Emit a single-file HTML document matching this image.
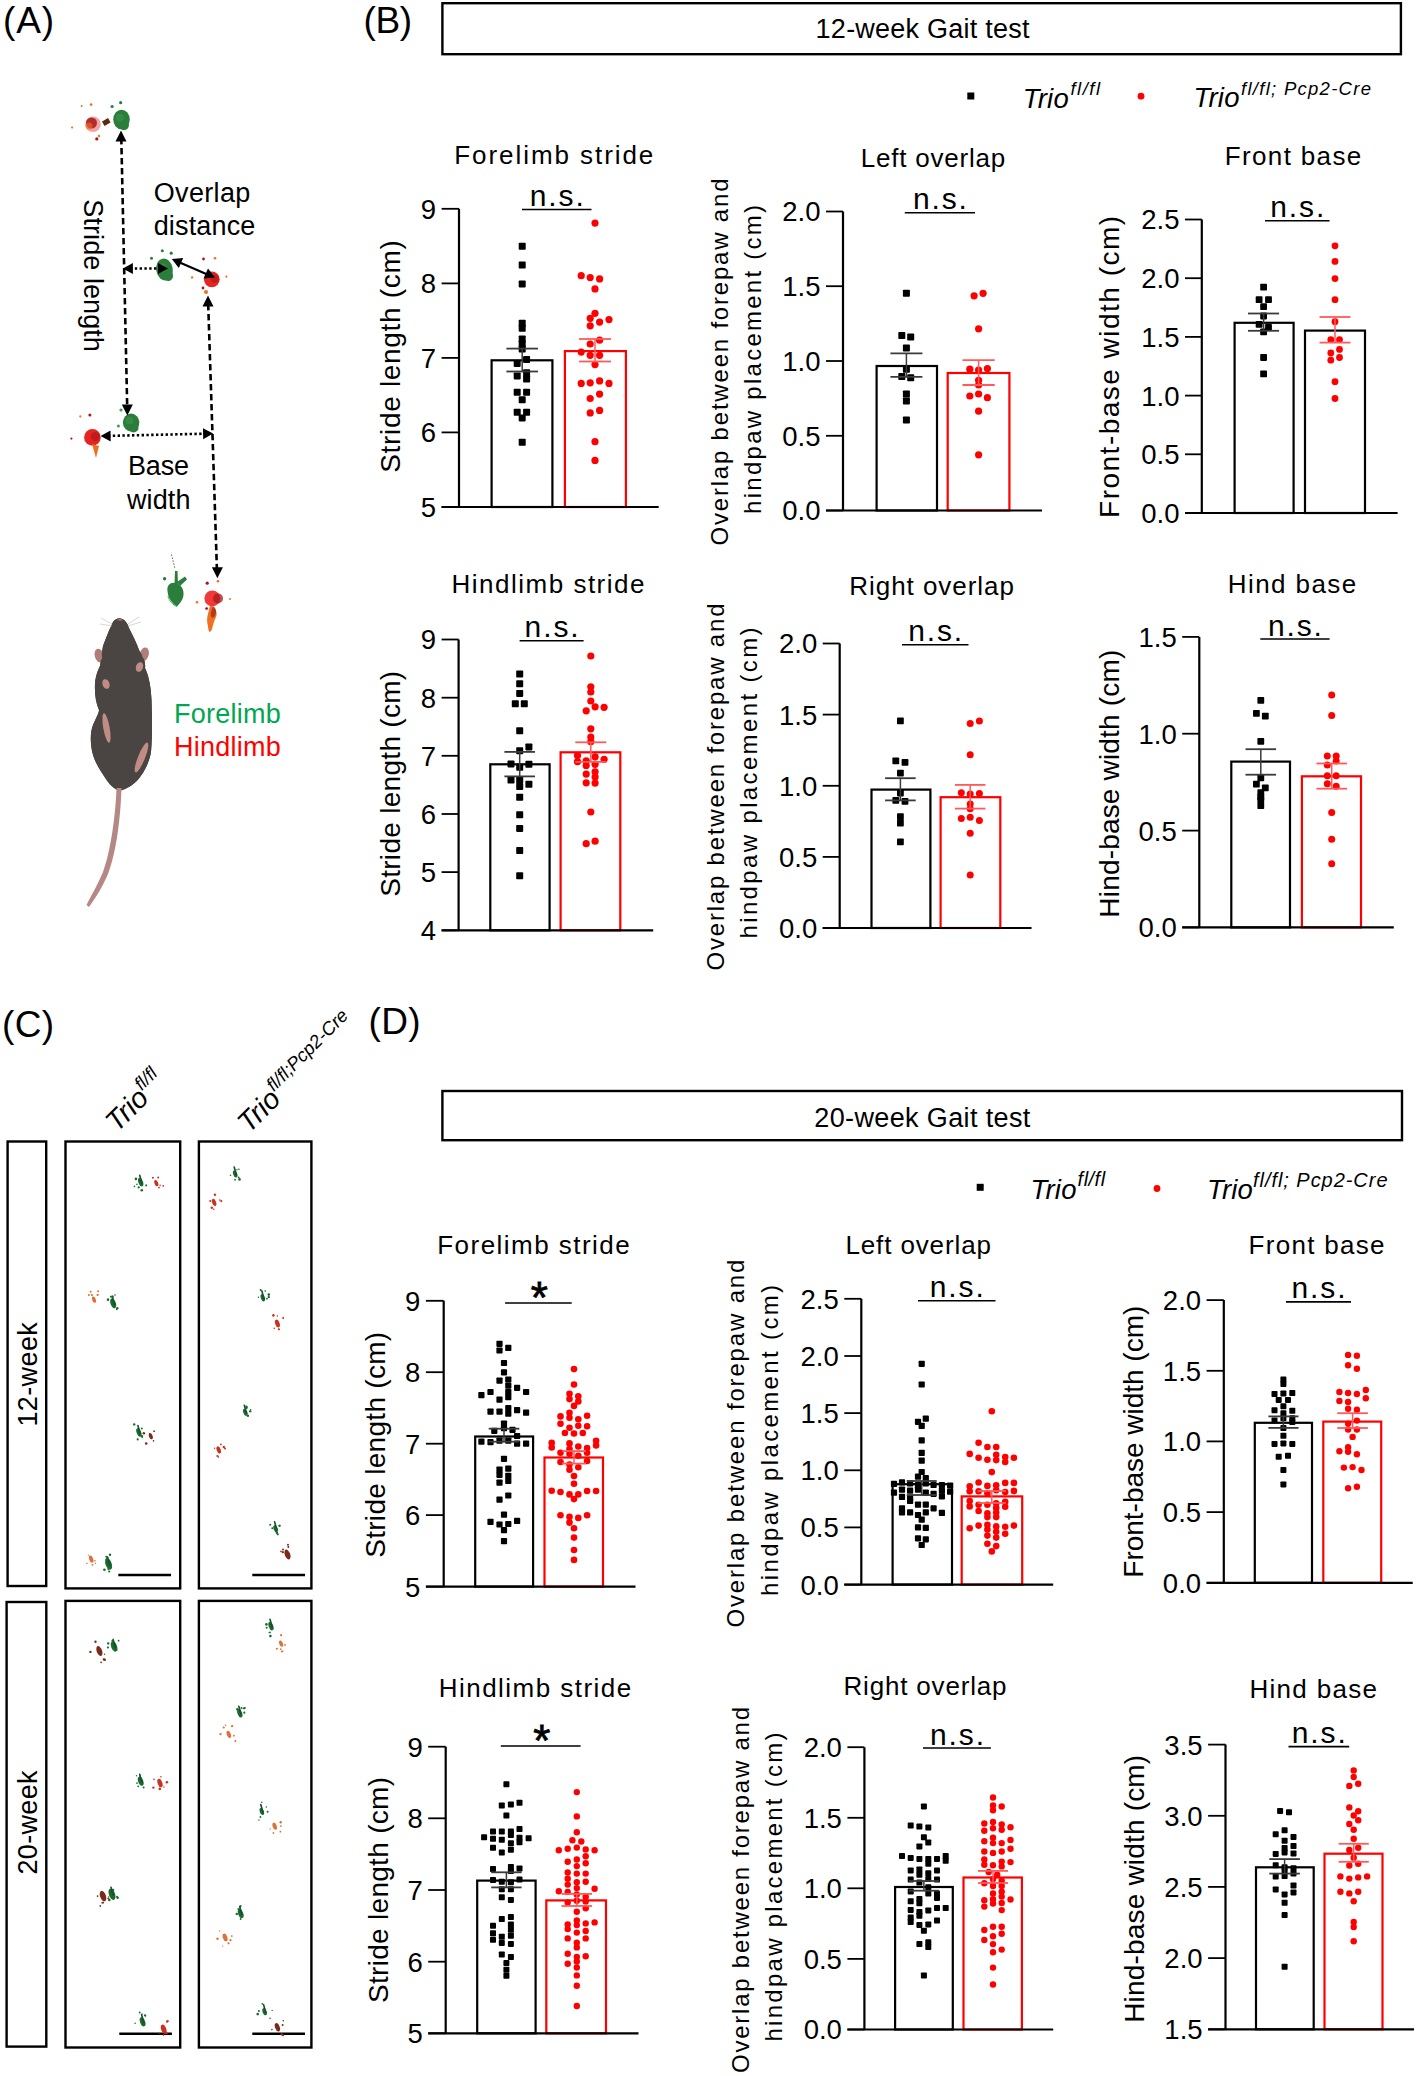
<!DOCTYPE html><html><head><meta charset="utf-8"><style>html,body{margin:0;padding:0;background:#fff;}svg{display:block;}text{font-family:"Liberation Sans", sans-serif;}</style></head><body>
<svg width="1417" height="2076" viewBox="0 0 1417 2076">
<rect x="0" y="0" width="1417" height="2076" fill="#fff"/>
<text x="3.0" y="33.2" font-size="37" text-anchor="start" fill="#000" textLength="51.0" lengthAdjust="spacing" >(A)</text>
<text x="363.5" y="33.2" font-size="37" text-anchor="start" fill="#000" textLength="48.7" lengthAdjust="spacing" >(B)</text>
<text x="2.0" y="1037.3" font-size="37" text-anchor="start" fill="#000" textLength="52.0" lengthAdjust="spacing" >(C)</text>
<text x="368.5" y="1033.9" font-size="37" text-anchor="start" fill="#000" textLength="52.2" lengthAdjust="spacing" >(D)</text>
<rect x="442.4" y="3.2" width="958.5" height="51.0" stroke="#000" stroke-width="2.4" fill="none"/>
<text x="922.6" y="38.1" font-size="27" text-anchor="middle" fill="#000" textLength="214.0" lengthAdjust="spacing" >12-week Gait test</text>
<rect x="442.4" y="1091.0" width="959.6" height="49.2" stroke="#000" stroke-width="2.4" fill="none"/>
<text x="922.3" y="1126.6" font-size="27" text-anchor="middle" fill="#000" textLength="216.0" lengthAdjust="spacing" >20-week Gait test</text>
<rect x="967.3" y="92.5" width="7" height="7" fill="#000"/>
<text x="1022.7" y="107.8" font-size="27.5" text-anchor="start" fill="#000" textLength="46.0" lengthAdjust="spacing" font-style="italic" >Trio</text>
<text x="1070.5" y="94.8" font-size="18.5" text-anchor="start" fill="#000" textLength="29.5" lengthAdjust="spacing" font-style="italic" >fl/fl</text>
<circle cx="1141.0" cy="96.2" r="3.4" fill="#ff0000"/>
<text x="1193.5" y="107.4" font-size="27.5" text-anchor="start" fill="#000" textLength="46.0" lengthAdjust="spacing" font-style="italic" >Trio</text>
<text x="1241.0" y="95.0" font-size="18.5" text-anchor="start" fill="#000" textLength="130.0" lengthAdjust="spacing" font-style="italic" >fl/fl; Pcp2-Cre</text>
<rect x="976.7" y="1183.8" width="7" height="7" fill="#000"/>
<text x="1030.5" y="1198.6" font-size="27.5" text-anchor="start" fill="#000" textLength="46.0" lengthAdjust="spacing" font-style="italic" >Trio</text>
<text x="1077.6" y="1185.6" font-size="20" text-anchor="start" fill="#000" textLength="27.5" lengthAdjust="spacing" font-style="italic" >fl/fl</text>
<circle cx="1157.0" cy="1188.5" r="3.4" fill="#ff0000"/>
<text x="1206.9" y="1198.6" font-size="27.5" text-anchor="start" fill="#000" textLength="46.0" lengthAdjust="spacing" font-style="italic" >Trio</text>
<text x="1253.0" y="1187.0" font-size="20" text-anchor="start" fill="#000" textLength="134.5" lengthAdjust="spacing" font-style="italic" >fl/fl; Pcp2-Cre</text>
<text x="153.7" y="202.0" font-size="27" text-anchor="start" fill="#000" textLength="96.6" lengthAdjust="spacing" >Overlap</text>
<text x="153.7" y="235.0" font-size="27" text-anchor="start" fill="#000" textLength="101.6" lengthAdjust="spacing" >distance</text>
<text transform="translate(83.5,275.6) rotate(90)" x="0" y="0" font-size="27" text-anchor="middle" textLength="152.5" lengthAdjust="spacing">Stride length</text>
<text x="128.0" y="474.8" font-size="27" text-anchor="start" fill="#000" textLength="61.0" lengthAdjust="spacing" >Base</text>
<text x="127.0" y="508.6" font-size="27" text-anchor="start" fill="#000" textLength="63.5" lengthAdjust="spacing" >width</text>
<text x="174.0" y="722.5" font-size="27" text-anchor="start" fill="#00a650" textLength="106.7" lengthAdjust="spacing" >Forelimb</text>
<text x="174.0" y="756.3" font-size="27" text-anchor="start" fill="#ff0000" textLength="106.7" lengthAdjust="spacing" >Hindlimb</text>
<g transform="translate(121.5,119.5) rotate(0)"><ellipse cx="0" cy="0" rx="8.25" ry="9.75" fill="#2b7d3c"/><ellipse cx="2.475" cy="5.85" rx="4.95" ry="4.875" fill="#2b7d3c"/><ellipse cx="-1.6500000000000001" cy="-1.9500000000000002" rx="4.125" ry="3.9000000000000004" fill="#3c8f4a" opacity="0.7"/></g>
<circle cx="112.1" cy="106.5" r="1.6" fill="#2b7d3c"/>
<circle cx="120.7" cy="102.7" r="1.6" fill="#2b7d3c"/>
<circle cx="93" cy="124.3" r="7.8" fill="#f2a3a3"/>
<circle cx="91.5" cy="123" r="5.5" fill="#a81818" opacity="0.85"/>
<circle cx="89" cy="126" r="3.5" fill="#f07020" opacity="0.6"/>
<rect x="103" y="119.5" width="7" height="5" fill="#5a2a10" transform="rotate(-30 106.4 122.4)"/>
<circle cx="96.8" cy="138.9" r="1.6" fill="#a81818"/>
<circle cx="99" cy="136" r="1.2" fill="#f07020"/>
<circle cx="91.1" cy="104.6" r="1.3" fill="#f07020"/>
<circle cx="81.6" cy="105.9" r="1" fill="#f07020"/>
<circle cx="72.1" cy="127.5" r="1.1" fill="#f07020"/>
<g transform="translate(164.5,269.5) rotate(-10)"><ellipse cx="0" cy="0" rx="8.25" ry="11.0" fill="#2b7d3c"/><ellipse cx="2.475" cy="6.6" rx="4.95" ry="5.5" fill="#2b7d3c"/><ellipse cx="-1.6500000000000001" cy="-2.2" rx="4.125" ry="4.4" fill="#3c8f4a" opacity="0.7"/></g>
<circle cx="151.5" cy="258.3" r="1.5" fill="#2b7d3c"/>
<circle cx="162.3" cy="250.7" r="1.5" fill="#2b7d3c"/>
<circle cx="171.2" cy="253.2" r="1.6" fill="#2b7d3c"/>
<circle cx="211.8" cy="279.3" r="7.9" fill="#e52424"/>
<circle cx="214.565" cy="278.51" r="4.345000000000001" fill="#a81818" opacity="0.6"/>
<circle cx="203.5" cy="259" r="1.4" fill="#a81818"/>
<circle cx="215" cy="258.3" r="1.3" fill="#f07020"/>
<circle cx="192.1" cy="277.4" r="1.2" fill="#f07020"/>
<circle cx="226.4" cy="276.7" r="1.1" fill="#f07020"/>
<circle cx="206" cy="292" r="2" fill="#f07020"/>
<circle cx="203" cy="288" r="1.4" fill="#a81818"/>
<g transform="translate(131.1,422.5) rotate(0)"><ellipse cx="0" cy="0" rx="8.25" ry="9.0" fill="#2b7d3c"/><ellipse cx="2.475" cy="5.3999999999999995" rx="4.95" ry="4.5" fill="#2b7d3c"/><ellipse cx="-1.6500000000000001" cy="-1.8" rx="4.125" ry="3.6" fill="#3c8f4a" opacity="0.7"/></g>
<circle cx="121" cy="410" r="1.6" fill="#3aa14a"/>
<circle cx="118.4" cy="425.9" r="1.5" fill="#3aa14a"/>
<circle cx="92.4" cy="437.4" r="8.3" fill="#e52424"/>
<circle cx="95.305" cy="436.57" r="4.565" fill="#a81818" opacity="0.6"/>
<path d="M92,444 L96,458 L99,446 Z" fill="#f07020"/>
<circle cx="89.9" cy="415.1" r="1.5" fill="#a81818"/>
<circle cx="80.3" cy="416.4" r="1.1" fill="#f07020"/>
<circle cx="71.4" cy="438.6" r="1.1" fill="#a81818"/>
<path d="M167.5,591 C166.5,584 172,581 177,583.5 C182,585.5 184,590 183.5,595 C183,600 180,603 177,606.5 C173,604 168,599 167.5,591 Z" fill="#2b7d3c"/>
<path d="M174.5,584 L175,571 L177.5,571 L178,584 Z M177,582 L185,576.5 L187,579.5 L180,586 Z" fill="#2b7d3c"/>
<path d="M168,596 C169,601 173,605 177,606.5" stroke="#39b54a" stroke-width="1" fill="none"/>
<circle cx="164.6" cy="578.7" r="1.7" fill="#2b7d3c"/>
<line x1="171.6" y1="554.6" x2="175" y2="569" stroke="#556655" stroke-width="1" stroke-dasharray="1.5 1.5"/>
<path d="M211,605 C215,608 218,612 216,617 C214,621 213,625 212,629 C211,632 209,633 208.5,630 C208,625 206,620 208,614 C209,610 209,607 211,605 Z" fill="#f07020"/>
<path d="M213,606 C217,609 217,613 214,617 C212,619 210,616 211,612 Z" fill="#a0301a" opacity="0.8"/>
<circle cx="212.3" cy="598.4" r="7.9" fill="#f03a3a"/>
<circle cx="218" cy="598.4" r="5" fill="#a81818" opacity="0.75"/>
<circle cx="207.2" cy="583.2" r="1.6" fill="#a81818"/>
<circle cx="218" cy="581.3" r="1.3" fill="#f07020"/>
<circle cx="197" cy="602.2" r="1.3" fill="#f07020"/>
<circle cx="206.6" cy="608.6" r="1.4" fill="#a81818"/>
<circle cx="230" cy="599" r="1.0" fill="#f07020"/>
<line x1="121.3" y1="138" x2="127.2" y2="407" stroke="#000" stroke-width="2.6" stroke-dasharray="6.4 3.6"/>
<path d="M121.0,130.5 L126.5,141.5 L115.5,141.5 Z" fill="#000"/>
<path d="M127.3,415.5 L121.8,404.5 L132.8,404.5 Z" fill="#000"/>
<line x1="208.2" y1="304" x2="216.9" y2="569" stroke="#000" stroke-width="2.6" stroke-dasharray="6.4 3.6"/>
<path d="M208.0,295.5 L213.5,306.5 L202.5,306.5 Z" fill="#000"/>
<path d="M217.4,578.3 L211.9,567.3 L222.9,567.3 Z" fill="#000"/>
<line x1="130" y1="268.5" x2="160" y2="268.5" stroke="#000" stroke-width="2.6" stroke-dasharray="2.4 2.4"/>
<path d="M122.9,268.5 L132.9,263.0 L132.9,274.0 Z" fill="#000"/>
<path d="M168.0,268.5 L158.0,274.0 L158.0,263.0 Z" fill="#000"/>
<line x1="178" y1="261.7" x2="208" y2="274.7" stroke="#000" stroke-width="2.2"/>
<path d="M171.8,259.0 L183.2,257.9 L178.8,268.0 Z" fill="#000"/>
<path d="M215.0,277.4 L203.6,278.5 L208.0,268.4 Z" fill="#000"/>
<line x1="108" y1="435.9" x2="205" y2="433.7" stroke="#000" stroke-width="2.6" stroke-dasharray="2.4 2.4"/>
<path d="M100.6,436.1 L110.5,430.4 L110.7,441.4 Z" fill="#000"/>
<path d="M213.1,433.5 L203.2,439.2 L203.0,428.2 Z" fill="#000"/>
<path d="M120,618.2 C124,619 127,622 129,628 C133,636 137,644 139,650 C143,656 146,662 145,668 C149,676 151,688 151.5,700 C152,715 152.5,735 151,752 C149,765 140,780 132,785 C126,789 122,790.5 119,790.6 C114,789 109,784 105.8,778.7 C100,770 93,760 91.5,748 C90,738 91,730 93,725 C96,718 99,713 99,710 C96,703 94.5,695 95,684 C95.5,676 98,670 100,666 C101,660 102,652 103,646 C106,638 110,628 113,622 C115,619 118,618 120,618.2 Z" fill="#4a4542"/>
<ellipse cx="99" cy="656" rx="4.5" ry="7" fill="#b07d79" transform="rotate(-15 97.5 655)"/>
<ellipse cx="144.5" cy="655" rx="4.5" ry="7" fill="#b07d79" transform="rotate(15 147 653.5)"/>
<path d="M120,618.2 C124,619 127,622 129,628 C133,636 137,644 139,650 C143,656 146,662 145,668 C149,676 151,688 151.5,700 C152,715 152.5,735 151,752 C149,765 140,780 132,785 C126,789 122,790.5 119,790.6 C114,789 109,784 105.8,778.7 C100,770 93,760 91.5,748 C90,738 91,730 93,725 C96,718 99,713 99,710 C96,703 94.5,695 95,684 C95.5,676 98,670 100,666 C101,660 102,652 103,646 C106,638 110,628 113,622 C115,619 118,618 120,618.2 Z" fill="#4a4542"/>
<ellipse cx="99.5" cy="655" rx="2.2" ry="5" fill="#b07d79" transform="rotate(-15 99.5 655)"/>
<ellipse cx="145" cy="653.5" rx="2.2" ry="5" fill="#b07d79" transform="rotate(15 145 653.5)"/>
<ellipse cx="106" cy="684" rx="3.5" ry="5" fill="#c08c86" transform="rotate(-20 106 684)"/>
<ellipse cx="139.5" cy="667" rx="3.5" ry="5" fill="#c08c86" transform="rotate(20 139.5 667)"/>
<ellipse cx="106.5" cy="728" rx="3.2" ry="15" fill="#c08c86" transform="rotate(-10 106.5 728)"/>
<ellipse cx="141.5" cy="757.5" rx="3.5" ry="16" fill="#c08c86" transform="rotate(22 141.5 757.5)"/>
<path d="M120,618.5 L117,620.5 L123,620.5 Z" fill="#b07d79"/>
<path d="M112,624 L101,618 M112,626 L100,624 M128,624 L139,617 M128,626 L141,622" stroke="#bbb" stroke-width="0.6" fill="none"/>
<path d="M116.5,788 C115.5,815 111,850 103,872 C97,886 91,896 86.5,905 L89,907 C95.5,898 102,888 108,874 C116.5,852 120.5,818 121.5,788 Z" fill="#b48884"/>
<rect x="7.6" y="1141.5" width="38.6" height="444.5" stroke="#000" stroke-width="2.4" fill="none"/>
<rect x="65.5" y="1141.5" width="114.7" height="446.9" stroke="#000" stroke-width="2.4" fill="none"/>
<rect x="198.9" y="1141.5" width="112.5" height="446.9" stroke="#000" stroke-width="2.4" fill="none"/>
<rect x="6.6" y="1602.0" width="39.7" height="444.6" stroke="#000" stroke-width="2.4" fill="none"/>
<rect x="65.5" y="1600.9" width="114.7" height="446.6" stroke="#000" stroke-width="2.4" fill="none"/>
<rect x="198.9" y="1600.9" width="112.5" height="446.6" stroke="#000" stroke-width="2.4" fill="none"/>
<line x1="118.3" y1="1575.0" x2="171.0" y2="1575.0" stroke="#000" stroke-width="2.6" />
<line x1="252.3" y1="1575.0" x2="305.0" y2="1575.0" stroke="#000" stroke-width="2.6" />
<line x1="119.3" y1="2033.8" x2="171.9" y2="2033.8" stroke="#000" stroke-width="2.6" />
<line x1="252.3" y1="2033.8" x2="305.0" y2="2033.8" stroke="#000" stroke-width="2.6" />
<text transform="translate(37,1374.4) rotate(-90)" x="0" y="0" font-size="27" text-anchor="middle" textLength="104.4" lengthAdjust="spacing">12-week</text>
<text transform="translate(37.3,1822.5) rotate(-90)" x="0" y="0" font-size="27" text-anchor="middle" textLength="104" lengthAdjust="spacing">20-week</text>
<g transform="translate(117,1133) rotate(-45)"><text x="0" y="0" font-size="28.5" font-style="italic">Trio<tspan font-size="18.5" dy="-12">fl/fl</tspan></text></g>
<g transform="translate(249,1134) rotate(-45)"><text x="0" y="0" font-size="28.5" font-style="italic">Trio<tspan font-size="18.5" dy="-12">fl/fl;Pcp2-Cre</tspan></text></g>
<ellipse cx="140.7" cy="1182.2" rx="2.3" ry="4.4" fill="#1a6a30" transform="rotate(-20 140.7 1182.2)"/>
<path d="M139.7,1175.2 L141.9,1183.2" stroke="#16502a" stroke-width="1.6" stroke-linecap="round"/>
<circle cx="138.7" cy="1187.4" r="1.1" fill="#1a6a30"/>
<circle cx="146.1" cy="1185.6" r="0.9" fill="#1a6a30"/>
<circle cx="146.2" cy="1184.9" r="0.7" fill="#1a6a30"/>
<circle cx="136.9" cy="1184.4" r="0.8" fill="#1a6a30"/>
<circle cx="134.4" cy="1186.4" r="0.8" fill="#1a6a30"/>
<circle cx="141.8" cy="1190.3" r="1.3" fill="#1a6a30"/>
<circle cx="135.9" cy="1178.9" r="1.3" fill="#1a6a30"/>
<ellipse cx="156.3" cy="1183.1" rx="1.8" ry="3.3" fill="#c8321e" transform="rotate(-20 156.3 1183.1)"/>
<circle cx="163.2" cy="1185.8" r="0.9" fill="#c8321e"/>
<circle cx="159.0" cy="1187.6" r="0.9" fill="#c8321e"/>
<circle cx="158.2" cy="1177.6" r="1.0" fill="#c8321e"/>
<circle cx="152.9" cy="1177.8" r="1.0" fill="#c8321e"/>
<circle cx="160.1" cy="1185.2" r="0.8" fill="#c8321e"/>
<ellipse cx="113.2" cy="1303.3" rx="2.7" ry="5.2" fill="#1a6a30" transform="rotate(-20 113.2 1303.3)"/>
<path d="M112.2,1296.3 L114.4,1304.3" stroke="#16502a" stroke-width="1.6" stroke-linecap="round"/>
<circle cx="110.8" cy="1296.7" r="0.9" fill="#1a6a30"/>
<circle cx="108.3" cy="1299.5" r="0.9" fill="#1a6a30"/>
<circle cx="115.0" cy="1295.0" r="0.8" fill="#1a6a30"/>
<circle cx="107.9" cy="1299.8" r="1.2" fill="#1a6a30"/>
<circle cx="112.6" cy="1296.8" r="1.3" fill="#1a6a30"/>
<circle cx="117.3" cy="1308.2" r="1.2" fill="#1a6a30"/>
<circle cx="116.6" cy="1309.5" r="0.7" fill="#1a6a30"/>
<ellipse cx="94" cy="1299.6" rx="1.8" ry="3.3" fill="#e07035" transform="rotate(-20 94 1299.6)"/>
<circle cx="90.6" cy="1291.8" r="1.0" fill="#e07035"/>
<circle cx="97.6" cy="1294.9" r="1.1" fill="#e07035"/>
<circle cx="88.9" cy="1295.1" r="1.0" fill="#e07035"/>
<circle cx="98.1" cy="1291.3" r="1.0" fill="#e07035"/>
<circle cx="91.9" cy="1295.0" r="1.1" fill="#e07035"/>
<ellipse cx="138.9" cy="1432.5" rx="2.3" ry="4.4" fill="#1a6a30" transform="rotate(-20 138.9 1432.5)"/>
<path d="M137.9,1425.5 L140.1,1433.5" stroke="#16502a" stroke-width="1.6" stroke-linecap="round"/>
<circle cx="134.2" cy="1424.4" r="1.2" fill="#1a6a30"/>
<circle cx="137.7" cy="1439.4" r="1.1" fill="#1a6a30"/>
<circle cx="144.5" cy="1433.5" r="0.8" fill="#1a6a30"/>
<circle cx="142.0" cy="1436.1" r="1.2" fill="#1a6a30"/>
<circle cx="142.2" cy="1437.1" r="0.9" fill="#1a6a30"/>
<circle cx="141.8" cy="1428.5" r="1.0" fill="#1a6a30"/>
<ellipse cx="150.8" cy="1436.1" rx="1.8" ry="3.3" fill="#7a2a1a" transform="rotate(-20 150.8 1436.1)"/>
<circle cx="143.8" cy="1433.2" r="1.2" fill="#7a2a1a"/>
<circle cx="154.1" cy="1431.2" r="0.9" fill="#7a2a1a"/>
<circle cx="146.2" cy="1443.5" r="1.3" fill="#7a2a1a"/>
<circle cx="153.5" cy="1440.9" r="0.8" fill="#7a2a1a"/>
<ellipse cx="108.6" cy="1564" rx="3.1" ry="5.9" fill="#1a6a30" transform="rotate(-20 108.6 1564)"/>
<path d="M107.6,1557.0 L109.8,1565.0" stroke="#16502a" stroke-width="1.6" stroke-linecap="round"/>
<circle cx="109.2" cy="1571.5" r="1.1" fill="#1a6a30"/>
<circle cx="108.3" cy="1569.1" r="1.0" fill="#1a6a30"/>
<circle cx="104.4" cy="1569.8" r="1.3" fill="#1a6a30"/>
<circle cx="106.4" cy="1556.8" r="1.1" fill="#1a6a30"/>
<circle cx="106.8" cy="1559.2" r="1.2" fill="#1a6a30"/>
<circle cx="110.0" cy="1554.7" r="1.2" fill="#1a6a30"/>
<ellipse cx="91.2" cy="1559.1" rx="2.0" ry="3.7" fill="#e07035" transform="rotate(-20 91.2 1559.1)"/>
<circle cx="86.9" cy="1563.5" r="0.8" fill="#e07035"/>
<circle cx="88.4" cy="1555.1" r="0.7" fill="#e07035"/>
<circle cx="92.4" cy="1564.8" r="0.9" fill="#e07035"/>
<circle cx="94.9" cy="1560.7" r="0.8" fill="#e07035"/>
<circle cx="95.5" cy="1563.2" r="0.7" fill="#e07035"/>
<ellipse cx="235.2" cy="1174" rx="2.0" ry="3.7" fill="#1a6a30" transform="rotate(-20 235.2 1174)"/>
<path d="M234.2,1167.0 L236.4,1175.0" stroke="#16502a" stroke-width="1.6" stroke-linecap="round"/>
<circle cx="238.9" cy="1169.2" r="0.8" fill="#1a6a30"/>
<circle cx="235.1" cy="1179.7" r="0.9" fill="#1a6a30"/>
<circle cx="239.5" cy="1179.4" r="1.3" fill="#1a6a30"/>
<circle cx="230.5" cy="1175.3" r="0.8" fill="#1a6a30"/>
<circle cx="238.7" cy="1177.4" r="0.9" fill="#1a6a30"/>
<circle cx="237.0" cy="1169.7" r="0.7" fill="#1a6a30"/>
<ellipse cx="214.1" cy="1202.4" rx="2.0" ry="3.7" fill="#c8321e" transform="rotate(-20 214.1 1202.4)"/>
<circle cx="219.8" cy="1200.1" r="0.8" fill="#c8321e"/>
<circle cx="210.2" cy="1201.0" r="1.0" fill="#c8321e"/>
<circle cx="221.3" cy="1201.1" r="1.1" fill="#c8321e"/>
<circle cx="213.7" cy="1209.3" r="0.8" fill="#c8321e"/>
<circle cx="214.9" cy="1194.7" r="1.2" fill="#c8321e"/>
<circle cx="211.8" cy="1207.8" r="1.2" fill="#c8321e"/>
<ellipse cx="262.8" cy="1297.8" rx="2.0" ry="3.7" fill="#1a6a30" transform="rotate(-20 262.8 1297.8)"/>
<path d="M261.8,1290.8 L264.0,1298.8" stroke="#16502a" stroke-width="1.6" stroke-linecap="round"/>
<circle cx="268.8" cy="1297.1" r="1.2" fill="#1a6a30"/>
<circle cx="265.2" cy="1291.1" r="0.8" fill="#1a6a30"/>
<circle cx="258.4" cy="1297.2" r="0.7" fill="#1a6a30"/>
<circle cx="266.9" cy="1298.7" r="0.9" fill="#1a6a30"/>
<circle cx="260.6" cy="1290.1" r="1.0" fill="#1a6a30"/>
<circle cx="268.8" cy="1294.6" r="1.3" fill="#1a6a30"/>
<ellipse cx="277.4" cy="1323.5" rx="2.2" ry="4.0" fill="#c8321e" transform="rotate(-20 277.4 1323.5)"/>
<circle cx="274.3" cy="1328.2" r="0.8" fill="#c8321e"/>
<circle cx="278.9" cy="1329.3" r="1.1" fill="#c8321e"/>
<circle cx="283.2" cy="1318.0" r="1.0" fill="#c8321e"/>
<circle cx="273.4" cy="1316.0" r="0.8" fill="#c8321e"/>
<circle cx="273.4" cy="1315.3" r="1.2" fill="#c8321e"/>
<circle cx="277.4" cy="1316.0" r="0.8" fill="#c8321e"/>
<ellipse cx="245.3" cy="1412.3" rx="2.0" ry="3.7" fill="#1a6a30" transform="rotate(-20 245.3 1412.3)"/>
<path d="M244.3,1405.3 L246.5,1413.3" stroke="#16502a" stroke-width="1.6" stroke-linecap="round"/>
<circle cx="246.4" cy="1406.8" r="1.2" fill="#1a6a30"/>
<circle cx="249.8" cy="1411.3" r="0.9" fill="#1a6a30"/>
<circle cx="250.6" cy="1409.9" r="0.8" fill="#1a6a30"/>
<circle cx="247.9" cy="1415.8" r="1.2" fill="#1a6a30"/>
<circle cx="246.6" cy="1407.8" r="1.2" fill="#1a6a30"/>
<circle cx="250.6" cy="1411.4" r="0.9" fill="#1a6a30"/>
<ellipse cx="218.7" cy="1449.9" rx="2.0" ry="3.7" fill="#c8321e" transform="rotate(-20 218.7 1449.9)"/>
<circle cx="214.5" cy="1448.2" r="0.7" fill="#c8321e"/>
<circle cx="225.0" cy="1448.4" r="1.0" fill="#c8321e"/>
<circle cx="223.8" cy="1447.0" r="1.2" fill="#c8321e"/>
<circle cx="220.9" cy="1444.4" r="0.9" fill="#c8321e"/>
<circle cx="217.4" cy="1456.0" r="1.1" fill="#c8321e"/>
<circle cx="218.4" cy="1457.1" r="0.8" fill="#c8321e"/>
<ellipse cx="275.6" cy="1528.8" rx="2.0" ry="3.7" fill="#1a6a30" transform="rotate(-20 275.6 1528.8)"/>
<path d="M274.6,1521.8 L276.8,1529.8" stroke="#16502a" stroke-width="1.6" stroke-linecap="round"/>
<circle cx="279.3" cy="1525.7" r="1.0" fill="#1a6a30"/>
<circle cx="270.2" cy="1524.8" r="1.0" fill="#1a6a30"/>
<circle cx="279.8" cy="1525.7" r="1.0" fill="#1a6a30"/>
<circle cx="272.3" cy="1528.2" r="1.0" fill="#1a6a30"/>
<circle cx="276.9" cy="1532.7" r="1.2" fill="#1a6a30"/>
<circle cx="277.8" cy="1534.3" r="1.1" fill="#1a6a30"/>
<ellipse cx="287.5" cy="1554.5" rx="2.7" ry="5.2" fill="#7a2a1a" transform="rotate(-20 287.5 1554.5)"/>
<circle cx="282.7" cy="1552.2" r="1.0" fill="#7a2a1a"/>
<circle cx="281.0" cy="1551.4" r="0.8" fill="#7a2a1a"/>
<circle cx="283.0" cy="1552.2" r="0.9" fill="#7a2a1a"/>
<circle cx="288.3" cy="1546.9" r="1.0" fill="#7a2a1a"/>
<circle cx="288.0" cy="1544.8" r="1.0" fill="#7a2a1a"/>
<circle cx="283.0" cy="1549.5" r="1.0" fill="#7a2a1a"/>
<ellipse cx="114.1" cy="1646.4" rx="2.9" ry="5.5" fill="#1a6a30" transform="rotate(-20 114.1 1646.4)"/>
<path d="M113.1,1639.4 L115.3,1647.4" stroke="#16502a" stroke-width="1.6" stroke-linecap="round"/>
<circle cx="112.4" cy="1640.7" r="1.0" fill="#1a6a30"/>
<circle cx="107.9" cy="1647.5" r="1.1" fill="#1a6a30"/>
<circle cx="118.6" cy="1640.7" r="0.9" fill="#1a6a30"/>
<circle cx="108.2" cy="1643.4" r="1.2" fill="#1a6a30"/>
<circle cx="116.5" cy="1650.0" r="1.0" fill="#1a6a30"/>
<ellipse cx="99.4" cy="1651" rx="2.7" ry="5.2" fill="#7a2a1a" transform="rotate(-20 99.4 1651)"/>
<circle cx="104.5" cy="1654.2" r="0.7" fill="#7a2a1a"/>
<circle cx="95.5" cy="1641.8" r="1.2" fill="#7a2a1a"/>
<circle cx="103.8" cy="1659.4" r="1.1" fill="#7a2a1a"/>
<circle cx="104.7" cy="1659.7" r="1.3" fill="#7a2a1a"/>
<circle cx="101.1" cy="1662.3" r="0.9" fill="#7a2a1a"/>
<circle cx="90.4" cy="1651.9" r="1.2" fill="#7a2a1a"/>
<ellipse cx="140.7" cy="1781.2" rx="2.5" ry="4.8" fill="#1a6a30" transform="rotate(-20 140.7 1781.2)"/>
<path d="M139.7,1774.2 L141.9,1782.2" stroke="#16502a" stroke-width="1.6" stroke-linecap="round"/>
<circle cx="143.6" cy="1787.4" r="1.0" fill="#1a6a30"/>
<circle cx="138.2" cy="1786.3" r="0.9" fill="#1a6a30"/>
<circle cx="140.0" cy="1776.1" r="1.0" fill="#1a6a30"/>
<circle cx="137.0" cy="1783.1" r="0.9" fill="#1a6a30"/>
<circle cx="136.5" cy="1775.8" r="0.7" fill="#1a6a30"/>
<ellipse cx="160" cy="1783.1" rx="2.3" ry="4.4" fill="#c8321e" transform="rotate(-20 160 1783.1)"/>
<circle cx="166.9" cy="1782.2" r="1.3" fill="#c8321e"/>
<circle cx="163.9" cy="1787.0" r="0.7" fill="#c8321e"/>
<circle cx="160.9" cy="1776.8" r="0.8" fill="#c8321e"/>
<circle cx="153.4" cy="1787.6" r="1.2" fill="#c8321e"/>
<circle cx="159.8" cy="1788.9" r="1.3" fill="#c8321e"/>
<circle cx="154.0" cy="1779.4" r="0.8" fill="#c8321e"/>
<ellipse cx="112" cy="1894.3" rx="3.1" ry="5.9" fill="#1a6a30" transform="rotate(-20 112 1894.3)"/>
<path d="M111.0,1887.3 L113.2,1895.3" stroke="#16502a" stroke-width="1.6" stroke-linecap="round"/>
<circle cx="117.1" cy="1896.8" r="1.0" fill="#1a6a30"/>
<circle cx="117.7" cy="1897.9" r="1.1" fill="#1a6a30"/>
<circle cx="113.1" cy="1890.0" r="1.2" fill="#1a6a30"/>
<circle cx="117.5" cy="1897.5" r="1.0" fill="#1a6a30"/>
<circle cx="109.3" cy="1899.9" r="1.3" fill="#1a6a30"/>
<ellipse cx="103" cy="1896.1" rx="2.9" ry="5.5" fill="#7a2a1a" transform="rotate(-20 103 1896.1)"/>
<circle cx="102.4" cy="1902.7" r="1.0" fill="#7a2a1a"/>
<circle cx="103.4" cy="1902.6" r="0.8" fill="#7a2a1a"/>
<circle cx="108.2" cy="1898.3" r="0.9" fill="#7a2a1a"/>
<circle cx="100.3" cy="1905.9" r="0.9" fill="#7a2a1a"/>
<circle cx="97.6" cy="1896.1" r="0.9" fill="#7a2a1a"/>
<circle cx="108.7" cy="1896.9" r="0.7" fill="#7a2a1a"/>
<ellipse cx="142.6" cy="2021.8" rx="2.5" ry="4.8" fill="#1a6a30" transform="rotate(-20 142.6 2021.8)"/>
<path d="M141.6,2014.8 L143.8,2022.8" stroke="#16502a" stroke-width="1.6" stroke-linecap="round"/>
<circle cx="142.0" cy="2014.0" r="0.8" fill="#1a6a30"/>
<circle cx="135.1" cy="2023.3" r="0.8" fill="#1a6a30"/>
<circle cx="144.9" cy="2015.2" r="1.0" fill="#1a6a30"/>
<circle cx="145.4" cy="2015.7" r="1.0" fill="#1a6a30"/>
<circle cx="139.7" cy="2012.5" r="0.9" fill="#1a6a30"/>
<ellipse cx="163.7" cy="2029.2" rx="2.5" ry="4.8" fill="#c8321e" transform="rotate(-20 163.7 2029.2)"/>
<circle cx="167.0" cy="2021.7" r="1.1" fill="#c8321e"/>
<circle cx="159.4" cy="2033.1" r="0.7" fill="#c8321e"/>
<circle cx="166.6" cy="2033.2" r="1.1" fill="#c8321e"/>
<circle cx="163.5" cy="2035.1" r="0.8" fill="#c8321e"/>
<circle cx="167.7" cy="2021.2" r="1.1" fill="#c8321e"/>
<ellipse cx="271" cy="1626.2" rx="2.3" ry="4.4" fill="#1a6a30" transform="rotate(-20 271 1626.2)"/>
<path d="M270.0,1619.2 L272.2,1627.2" stroke="#16502a" stroke-width="1.6" stroke-linecap="round"/>
<circle cx="270.0" cy="1632.4" r="0.9" fill="#1a6a30"/>
<circle cx="266.6" cy="1627.7" r="1.0" fill="#1a6a30"/>
<circle cx="270.4" cy="1636.1" r="1.3" fill="#1a6a30"/>
<circle cx="266.4" cy="1624.4" r="1.3" fill="#1a6a30"/>
<circle cx="269.1" cy="1632.6" r="0.7" fill="#1a6a30"/>
<ellipse cx="281.1" cy="1643.6" rx="1.8" ry="3.3" fill="#e07035" transform="rotate(-20 281.1 1643.6)"/>
<circle cx="276.9" cy="1648.7" r="1.0" fill="#e07035"/>
<circle cx="282.9" cy="1650.9" r="0.7" fill="#e07035"/>
<circle cx="280.7" cy="1649.1" r="0.9" fill="#e07035"/>
<circle cx="285.0" cy="1644.9" r="0.9" fill="#e07035"/>
<circle cx="281.8" cy="1651.6" r="1.0" fill="#e07035"/>
<circle cx="281.1" cy="1635.2" r="1.1" fill="#e07035"/>
<ellipse cx="239.8" cy="1713.3" rx="2.3" ry="4.4" fill="#1a6a30" transform="rotate(-20 239.8 1713.3)"/>
<path d="M238.8,1706.3 L241.0,1714.3" stroke="#16502a" stroke-width="1.6" stroke-linecap="round"/>
<circle cx="243.7" cy="1708.4" r="0.9" fill="#1a6a30"/>
<circle cx="244.3" cy="1712.7" r="1.1" fill="#1a6a30"/>
<circle cx="237.3" cy="1709.2" r="1.2" fill="#1a6a30"/>
<circle cx="244.7" cy="1708.1" r="1.1" fill="#1a6a30"/>
<circle cx="241.5" cy="1708.0" r="1.0" fill="#1a6a30"/>
<ellipse cx="228.8" cy="1734.4" rx="2.0" ry="3.7" fill="#e07035" transform="rotate(-20 228.8 1734.4)"/>
<circle cx="220.5" cy="1734.1" r="1.2" fill="#e07035"/>
<circle cx="232.1" cy="1726.1" r="1.2" fill="#e07035"/>
<circle cx="225.6" cy="1725.3" r="0.8" fill="#e07035"/>
<circle cx="233.9" cy="1735.7" r="0.9" fill="#e07035"/>
<circle cx="235.4" cy="1741.1" r="1.0" fill="#e07035"/>
<circle cx="223.7" cy="1727.5" r="1.1" fill="#e07035"/>
<ellipse cx="240.7" cy="1913.6" rx="2.5" ry="4.8" fill="#1a6a30" transform="rotate(-20 240.7 1913.6)"/>
<path d="M239.7,1906.6 L241.9,1914.6" stroke="#16502a" stroke-width="1.6" stroke-linecap="round"/>
<circle cx="236.8" cy="1913.9" r="1.2" fill="#1a6a30"/>
<circle cx="240.6" cy="1906.0" r="1.0" fill="#1a6a30"/>
<circle cx="238.5" cy="1909.0" r="1.1" fill="#1a6a30"/>
<circle cx="240.6" cy="1919.0" r="0.9" fill="#1a6a30"/>
<circle cx="240.1" cy="1907.5" r="1.1" fill="#1a6a30"/>
<ellipse cx="225.1" cy="1937.4" rx="2.2" ry="4.0" fill="#e07035" transform="rotate(-20 225.1 1937.4)"/>
<circle cx="231.8" cy="1936.1" r="0.9" fill="#e07035"/>
<circle cx="217.5" cy="1938.7" r="1.2" fill="#e07035"/>
<circle cx="219.6" cy="1930.9" r="0.7" fill="#e07035"/>
<circle cx="228.5" cy="1943.3" r="1.1" fill="#e07035"/>
<circle cx="222.7" cy="1946.1" r="0.7" fill="#e07035"/>
<circle cx="230.5" cy="1940.2" r="1.1" fill="#e07035"/>
<ellipse cx="264.6" cy="2011.7" rx="2.0" ry="3.7" fill="#1a6a30" transform="rotate(-20 264.6 2011.7)"/>
<path d="M263.6,2004.7 L265.8,2012.7" stroke="#16502a" stroke-width="1.6" stroke-linecap="round"/>
<circle cx="262.3" cy="2003.8" r="0.9" fill="#1a6a30"/>
<circle cx="258.9" cy="2010.9" r="1.0" fill="#1a6a30"/>
<circle cx="270.0" cy="2018.2" r="0.8" fill="#1a6a30"/>
<circle cx="272.1" cy="2010.4" r="0.7" fill="#1a6a30"/>
<circle cx="257.7" cy="2014.1" r="1.3" fill="#1a6a30"/>
<ellipse cx="277.4" cy="2027.3" rx="2.3" ry="4.4" fill="#7a2a1a" transform="rotate(-20 277.4 2027.3)"/>
<circle cx="271.9" cy="2029.6" r="0.8" fill="#7a2a1a"/>
<circle cx="282.6" cy="2024.9" r="1.0" fill="#7a2a1a"/>
<circle cx="281.8" cy="2034.3" r="1.3" fill="#7a2a1a"/>
<circle cx="283.0" cy="2035.3" r="1.0" fill="#7a2a1a"/>
<circle cx="283.3" cy="2020.7" r="0.8" fill="#7a2a1a"/>
<ellipse cx="261.8" cy="1811.5" rx="2.0" ry="3.7" fill="#1a6a30" transform="rotate(-20 261.8 1811.5)"/>
<path d="M260.8,1804.5 L263.0,1812.5" stroke="#16502a" stroke-width="1.6" stroke-linecap="round"/>
<circle cx="266.4" cy="1807.0" r="0.7" fill="#1a6a30"/>
<circle cx="267.6" cy="1811.7" r="1.0" fill="#1a6a30"/>
<circle cx="260.4" cy="1817.0" r="0.9" fill="#1a6a30"/>
<circle cx="258.9" cy="1820.0" r="0.7" fill="#1a6a30"/>
<circle cx="261.8" cy="1802.2" r="0.8" fill="#1a6a30"/>
<ellipse cx="274.7" cy="1826.2" rx="2.0" ry="3.7" fill="#e07035" transform="rotate(-20 274.7 1826.2)"/>
<circle cx="280.7" cy="1822.3" r="1.2" fill="#e07035"/>
<circle cx="273.4" cy="1832.9" r="0.9" fill="#e07035"/>
<circle cx="280.9" cy="1826.1" r="0.9" fill="#e07035"/>
<circle cx="270.2" cy="1829.0" r="0.7" fill="#e07035"/>
<circle cx="280.4" cy="1831.7" r="0.9" fill="#e07035"/>
<rect x="491.6" y="360.3" width="60.8" height="146.7" stroke="#000" stroke-width="2.2" fill="#fff"/>
<rect x="564.9" y="351.1" width="61.0" height="155.9" stroke="#ff0000" stroke-width="2.2" fill="#fff"/>
<rect x="518.7" y="242.8" width="7.0" height="7.0" rx="0.8" fill="#000"/>
<rect x="518.7" y="261.6" width="7.0" height="7.0" rx="0.8" fill="#000"/>
<rect x="518.7" y="280.4" width="7.0" height="7.0" rx="0.8" fill="#000"/>
<rect x="518.7" y="319.8" width="7.0" height="7.0" rx="0.8" fill="#000"/>
<rect x="518.7" y="324.8" width="7.0" height="7.0" rx="0.8" fill="#000"/>
<rect x="518.7" y="335.5" width="7.0" height="7.0" rx="0.8" fill="#000"/>
<rect x="518.7" y="340.5" width="7.0" height="7.0" rx="0.8" fill="#000"/>
<rect x="518.7" y="345.5" width="7.0" height="7.0" rx="0.8" fill="#000"/>
<rect x="523.1" y="356.1" width="7.0" height="7.0" rx="0.8" fill="#000"/>
<rect x="513.7" y="359.9" width="7.0" height="7.0" rx="0.8" fill="#000"/>
<rect x="523.1" y="369.3" width="7.0" height="7.0" rx="0.8" fill="#000"/>
<rect x="513.7" y="372.4" width="7.0" height="7.0" rx="0.8" fill="#000"/>
<rect x="523.1" y="375.5" width="7.0" height="7.0" rx="0.8" fill="#000"/>
<rect x="513.7" y="388.7" width="7.0" height="7.0" rx="0.8" fill="#000"/>
<rect x="523.1" y="388.7" width="7.0" height="7.0" rx="0.8" fill="#000"/>
<rect x="518.7" y="396.2" width="7.0" height="7.0" rx="0.8" fill="#000"/>
<rect x="513.7" y="408.7" width="7.0" height="7.0" rx="0.8" fill="#000"/>
<rect x="523.1" y="408.7" width="7.0" height="7.0" rx="0.8" fill="#000"/>
<rect x="518.7" y="414.4" width="7.0" height="7.0" rx="0.8" fill="#000"/>
<rect x="518.7" y="438.8" width="7.0" height="7.0" rx="0.8" fill="#000"/>
<circle cx="595.0" cy="223.1" r="3.6" fill="#ff0000"/>
<circle cx="581.2" cy="275.7" r="3.6" fill="#ff0000"/>
<circle cx="590.2" cy="277.6" r="3.6" fill="#ff0000"/>
<circle cx="599.6" cy="278.9" r="3.6" fill="#ff0000"/>
<circle cx="595.0" cy="288.9" r="3.6" fill="#ff0000"/>
<circle cx="595.0" cy="313.3" r="3.6" fill="#ff0000"/>
<circle cx="590.2" cy="318.3" r="3.6" fill="#ff0000"/>
<circle cx="609.0" cy="319.6" r="3.6" fill="#ff0000"/>
<circle cx="599.6" cy="322.1" r="3.6" fill="#ff0000"/>
<circle cx="590.2" cy="325.8" r="3.6" fill="#ff0000"/>
<circle cx="599.6" cy="340.2" r="3.6" fill="#ff0000"/>
<circle cx="590.2" cy="344.0" r="3.6" fill="#ff0000"/>
<circle cx="581.2" cy="352.1" r="3.6" fill="#ff0000"/>
<circle cx="590.2" cy="355.3" r="3.6" fill="#ff0000"/>
<circle cx="599.6" cy="355.3" r="3.6" fill="#ff0000"/>
<circle cx="595.0" cy="364.6" r="3.6" fill="#ff0000"/>
<circle cx="599.6" cy="380.9" r="3.6" fill="#ff0000"/>
<circle cx="581.2" cy="383.4" r="3.6" fill="#ff0000"/>
<circle cx="590.2" cy="382.8" r="3.6" fill="#ff0000"/>
<circle cx="609.0" cy="383.4" r="3.6" fill="#ff0000"/>
<circle cx="599.6" cy="394.1" r="3.6" fill="#ff0000"/>
<circle cx="590.2" cy="398.5" r="3.6" fill="#ff0000"/>
<circle cx="599.6" cy="410.4" r="3.6" fill="#ff0000"/>
<circle cx="590.2" cy="412.9" r="3.6" fill="#ff0000"/>
<circle cx="595.0" cy="441.7" r="3.6" fill="#ff0000"/>
<circle cx="595.0" cy="460.4" r="3.6" fill="#ff0000"/>
<line x1="522.2" y1="348.6" x2="522.2" y2="371.5" stroke="#3a3a3a" stroke-width="1.5" />
<line x1="506.4" y1="348.6" x2="538.0" y2="348.6" stroke="#3a3a3a" stroke-width="1.8" />
<line x1="506.4" y1="371.5" x2="538.0" y2="371.5" stroke="#3a3a3a" stroke-width="1.8" />
<line x1="595.0" y1="339.0" x2="595.0" y2="361.5" stroke="#ff5a5a" stroke-width="1.5" />
<line x1="579.0" y1="339.0" x2="611.0" y2="339.0" stroke="#ff5a5a" stroke-width="1.8" />
<line x1="579.0" y1="361.5" x2="611.0" y2="361.5" stroke="#ff5a5a" stroke-width="1.8" />
<line x1="459.0" y1="208.8" x2="459.0" y2="507.0" stroke="#000" stroke-width="2.2" />
<line x1="441.6" y1="507.0" x2="658.7" y2="507.0" stroke="#000" stroke-width="2.2" />
<line x1="441.6" y1="507.0" x2="459.0" y2="507.0" stroke="#000" stroke-width="1.8" />
<text x="436.1" y="516.9" font-size="27.5" text-anchor="end" fill="#000" >5</text>
<line x1="441.6" y1="432.4" x2="459.0" y2="432.4" stroke="#000" stroke-width="1.8" />
<text x="436.1" y="442.3" font-size="27.5" text-anchor="end" fill="#000" >6</text>
<line x1="441.6" y1="357.9" x2="459.0" y2="357.9" stroke="#000" stroke-width="1.8" />
<text x="436.1" y="367.8" font-size="27.5" text-anchor="end" fill="#000" >7</text>
<line x1="441.6" y1="283.4" x2="459.0" y2="283.4" stroke="#000" stroke-width="1.8" />
<text x="436.1" y="293.2" font-size="27.5" text-anchor="end" fill="#000" >8</text>
<line x1="441.6" y1="208.8" x2="459.0" y2="208.8" stroke="#000" stroke-width="1.8" />
<text x="436.1" y="218.7" font-size="27.5" text-anchor="end" fill="#000" >9</text>
<line x1="522.0" y1="209.5" x2="591.5" y2="209.5" stroke="#000" stroke-width="1.6" />
<text x="556.8" y="206.0" font-size="30" text-anchor="middle" fill="#000" textLength="54.0" lengthAdjust="spacing" >n.s.</text>
<text x="553.8" y="163.9" font-size="26" text-anchor="middle" fill="#000" textLength="199.0" lengthAdjust="spacing" >Forelimb stride</text>
<text transform="translate(400.0,356.5) rotate(-90)" x="0" y="0" font-size="28" text-anchor="middle" fill="#000" textLength="232.5" lengthAdjust="spacing">Stride length (cm)</text>
<rect x="876.6" y="366.0" width="60.4" height="144.5" stroke="#000" stroke-width="2.2" fill="#fff"/>
<rect x="947.7" y="373.0" width="61.7" height="137.5" stroke="#ff0000" stroke-width="2.2" fill="#fff"/>
<rect x="902.9" y="289.8" width="7.0" height="7.0" rx="0.8" fill="#000"/>
<rect x="898.3" y="332.1" width="7.0" height="7.0" rx="0.8" fill="#000"/>
<rect x="907.2" y="333.5" width="7.0" height="7.0" rx="0.8" fill="#000"/>
<rect x="902.9" y="344.6" width="7.0" height="7.0" rx="0.8" fill="#000"/>
<rect x="902.9" y="365.7" width="7.0" height="7.0" rx="0.8" fill="#000"/>
<rect x="898.3" y="373.0" width="7.0" height="7.0" rx="0.8" fill="#000"/>
<rect x="907.2" y="374.2" width="7.0" height="7.0" rx="0.8" fill="#000"/>
<rect x="902.9" y="390.5" width="7.0" height="7.0" rx="0.8" fill="#000"/>
<rect x="902.9" y="397.5" width="7.0" height="7.0" rx="0.8" fill="#000"/>
<rect x="902.9" y="416.5" width="7.0" height="7.0" rx="0.8" fill="#000"/>
<circle cx="974.1" cy="295.8" r="3.6" fill="#ff0000"/>
<circle cx="983.1" cy="293.3" r="3.6" fill="#ff0000"/>
<circle cx="978.6" cy="328.8" r="3.6" fill="#ff0000"/>
<circle cx="969.8" cy="369.2" r="3.6" fill="#ff0000"/>
<circle cx="978.6" cy="370.0" r="3.6" fill="#ff0000"/>
<circle cx="987.4" cy="368.6" r="3.6" fill="#ff0000"/>
<circle cx="978.6" cy="380.3" r="3.6" fill="#ff0000"/>
<circle cx="978.6" cy="385.0" r="3.6" fill="#ff0000"/>
<circle cx="969.8" cy="396.0" r="3.6" fill="#ff0000"/>
<circle cx="978.6" cy="394.0" r="3.6" fill="#ff0000"/>
<circle cx="987.4" cy="397.7" r="3.6" fill="#ff0000"/>
<circle cx="978.6" cy="411.2" r="3.6" fill="#ff0000"/>
<circle cx="978.6" cy="454.8" r="3.6" fill="#ff0000"/>
<line x1="906.4" y1="353.4" x2="906.4" y2="376.9" stroke="#3a3a3a" stroke-width="1.5" />
<line x1="890.4" y1="353.4" x2="922.4" y2="353.4" stroke="#3a3a3a" stroke-width="1.8" />
<line x1="890.4" y1="376.9" x2="922.4" y2="376.9" stroke="#3a3a3a" stroke-width="1.8" />
<line x1="978.6" y1="360.2" x2="978.6" y2="385.0" stroke="#ff5a5a" stroke-width="1.5" />
<line x1="962.5" y1="360.2" x2="994.7" y2="360.2" stroke="#ff5a5a" stroke-width="1.8" />
<line x1="962.5" y1="385.0" x2="994.7" y2="385.0" stroke="#ff5a5a" stroke-width="1.8" />
<line x1="843.0" y1="211.5" x2="843.0" y2="510.5" stroke="#000" stroke-width="2.2" />
<line x1="826.0" y1="510.5" x2="1042.0" y2="510.5" stroke="#000" stroke-width="2.2" />
<line x1="826.0" y1="510.5" x2="843.0" y2="510.5" stroke="#000" stroke-width="1.8" />
<text x="820.5" y="520.4" font-size="27.5" text-anchor="end" fill="#000" >0.0</text>
<line x1="826.0" y1="435.8" x2="843.0" y2="435.8" stroke="#000" stroke-width="1.8" />
<text x="820.5" y="445.6" font-size="27.5" text-anchor="end" fill="#000" >0.5</text>
<line x1="826.0" y1="361.0" x2="843.0" y2="361.0" stroke="#000" stroke-width="1.8" />
<text x="820.5" y="370.9" font-size="27.5" text-anchor="end" fill="#000" >1.0</text>
<line x1="826.0" y1="286.2" x2="843.0" y2="286.2" stroke="#000" stroke-width="1.8" />
<text x="820.5" y="296.1" font-size="27.5" text-anchor="end" fill="#000" >1.5</text>
<line x1="826.0" y1="211.5" x2="843.0" y2="211.5" stroke="#000" stroke-width="1.8" />
<text x="820.5" y="221.4" font-size="27.5" text-anchor="end" fill="#000" >2.0</text>
<line x1="904.8" y1="212.7" x2="975.0" y2="212.7" stroke="#000" stroke-width="1.6" />
<text x="939.9" y="209.2" font-size="30" text-anchor="middle" fill="#000" textLength="54.0" lengthAdjust="spacing" >n.s.</text>
<text x="933.0" y="167.0" font-size="26" text-anchor="middle" fill="#000" textLength="144.5" lengthAdjust="spacing" >Left overlap</text>
<text transform="translate(727.5,362.0) rotate(-90)" x="0" y="0" font-size="24" text-anchor="middle" fill="#000" textLength="367.0" lengthAdjust="spacing">Overlap between forepaw and</text>
<text transform="translate(760.5,359.4) rotate(-90)" x="0" y="0" font-size="24" text-anchor="middle" fill="#000" textLength="309.0" lengthAdjust="spacing">hindpaw placement (cm)</text>
<rect x="1234.6" y="322.8" width="59.0" height="190.2" stroke="#000" stroke-width="2.2" fill="#fff"/>
<rect x="1305.0" y="330.6" width="60.0" height="182.4" stroke="#000" stroke-width="2.2" fill="#fff"/>
<rect x="1260.2" y="283.7" width="6.8" height="6.8" rx="0.8" fill="#000"/>
<rect x="1255.7" y="296.3" width="6.8" height="6.8" rx="0.8" fill="#000"/>
<rect x="1265.1" y="296.3" width="6.8" height="6.8" rx="0.8" fill="#000"/>
<rect x="1260.2" y="303.2" width="6.8" height="6.8" rx="0.8" fill="#000"/>
<rect x="1260.2" y="312.6" width="6.8" height="6.8" rx="0.8" fill="#000"/>
<rect x="1255.7" y="321.0" width="6.8" height="6.8" rx="0.8" fill="#000"/>
<rect x="1265.1" y="323.9" width="6.8" height="6.8" rx="0.8" fill="#000"/>
<rect x="1260.2" y="328.4" width="6.8" height="6.8" rx="0.8" fill="#000"/>
<rect x="1260.2" y="354.1" width="6.8" height="6.8" rx="0.8" fill="#000"/>
<rect x="1260.2" y="370.4" width="6.8" height="6.8" rx="0.8" fill="#000"/>
<circle cx="1335.0" cy="245.8" r="3.4" fill="#ff0000"/>
<circle cx="1335.0" cy="261.4" r="3.4" fill="#ff0000"/>
<circle cx="1335.0" cy="278.6" r="3.4" fill="#ff0000"/>
<circle cx="1335.0" cy="299.7" r="3.4" fill="#ff0000"/>
<circle cx="1335.0" cy="321.7" r="3.4" fill="#ff0000"/>
<circle cx="1330.8" cy="339.7" r="3.4" fill="#ff0000"/>
<circle cx="1339.5" cy="339.7" r="3.4" fill="#ff0000"/>
<circle cx="1339.5" cy="349.4" r="3.4" fill="#ff0000"/>
<circle cx="1330.8" cy="353.0" r="3.4" fill="#ff0000"/>
<circle cx="1339.5" cy="357.5" r="3.4" fill="#ff0000"/>
<circle cx="1330.8" cy="360.2" r="3.4" fill="#ff0000"/>
<circle cx="1335.0" cy="381.7" r="3.4" fill="#ff0000"/>
<circle cx="1335.0" cy="398.5" r="3.4" fill="#ff0000"/>
<line x1="1263.6" y1="313.5" x2="1263.6" y2="330.8" stroke="#3a3a3a" stroke-width="1.5" />
<line x1="1248.0" y1="313.5" x2="1279.1" y2="313.5" stroke="#3a3a3a" stroke-width="1.8" />
<line x1="1248.0" y1="330.8" x2="1279.1" y2="330.8" stroke="#3a3a3a" stroke-width="1.8" />
<line x1="1335.0" y1="317.0" x2="1335.0" y2="342.6" stroke="#ff5a5a" stroke-width="1.5" />
<line x1="1319.5" y1="317.0" x2="1350.5" y2="317.0" stroke="#ff5a5a" stroke-width="1.8" />
<line x1="1319.5" y1="342.6" x2="1350.5" y2="342.6" stroke="#ff5a5a" stroke-width="1.8" />
<line x1="1201.8" y1="219.5" x2="1201.8" y2="513.0" stroke="#000" stroke-width="2.2" />
<line x1="1185.0" y1="513.0" x2="1397.6" y2="513.0" stroke="#000" stroke-width="2.2" />
<line x1="1185.0" y1="513.0" x2="1201.8" y2="513.0" stroke="#000" stroke-width="1.8" />
<text x="1179.5" y="522.9" font-size="27.5" text-anchor="end" fill="#000" >0.0</text>
<line x1="1185.0" y1="454.3" x2="1201.8" y2="454.3" stroke="#000" stroke-width="1.8" />
<text x="1179.5" y="464.2" font-size="27.5" text-anchor="end" fill="#000" >0.5</text>
<line x1="1185.0" y1="395.6" x2="1201.8" y2="395.6" stroke="#000" stroke-width="1.8" />
<text x="1179.5" y="405.5" font-size="27.5" text-anchor="end" fill="#000" >1.0</text>
<line x1="1185.0" y1="336.9" x2="1201.8" y2="336.9" stroke="#000" stroke-width="1.8" />
<text x="1179.5" y="346.8" font-size="27.5" text-anchor="end" fill="#000" >1.5</text>
<line x1="1185.0" y1="278.2" x2="1201.8" y2="278.2" stroke="#000" stroke-width="1.8" />
<text x="1179.5" y="288.1" font-size="27.5" text-anchor="end" fill="#000" >2.0</text>
<line x1="1185.0" y1="219.5" x2="1201.8" y2="219.5" stroke="#000" stroke-width="1.8" />
<text x="1179.5" y="229.4" font-size="27.5" text-anchor="end" fill="#000" >2.5</text>
<line x1="1265.0" y1="220.8" x2="1329.6" y2="220.8" stroke="#000" stroke-width="1.6" />
<text x="1297.3" y="217.3" font-size="30" text-anchor="middle" fill="#000" textLength="54.0" lengthAdjust="spacing" >n.s.</text>
<text x="1293.0" y="164.8" font-size="26" text-anchor="middle" fill="#000" textLength="136.5" lengthAdjust="spacing" >Front base</text>
<text transform="translate(1119.0,366.9) rotate(-90)" x="0" y="0" font-size="28" text-anchor="middle" fill="#000" textLength="302.0" lengthAdjust="spacing">Front-base width (cm)</text>
<rect x="490.3" y="764.3" width="59.3" height="166.0" stroke="#000" stroke-width="2.2" fill="#fff"/>
<rect x="560.6" y="752.3" width="59.7" height="178.0" stroke="#ff0000" stroke-width="2.2" fill="#fff"/>
<rect x="516.2" y="670.6" width="7.0" height="7.0" rx="0.8" fill="#000"/>
<rect x="516.2" y="680.2" width="7.0" height="7.0" rx="0.8" fill="#000"/>
<rect x="516.2" y="689.9" width="7.0" height="7.0" rx="0.8" fill="#000"/>
<rect x="511.8" y="700.3" width="7.0" height="7.0" rx="0.8" fill="#000"/>
<rect x="520.8" y="700.3" width="7.0" height="7.0" rx="0.8" fill="#000"/>
<rect x="516.2" y="727.3" width="7.0" height="7.0" rx="0.8" fill="#000"/>
<rect x="525.4" y="743.4" width="7.0" height="7.0" rx="0.8" fill="#000"/>
<rect x="516.2" y="747.3" width="7.0" height="7.0" rx="0.8" fill="#000"/>
<rect x="507.5" y="760.4" width="7.0" height="7.0" rx="0.8" fill="#000"/>
<rect x="525.4" y="760.8" width="7.0" height="7.0" rx="0.8" fill="#000"/>
<rect x="516.2" y="763.7" width="7.0" height="7.0" rx="0.8" fill="#000"/>
<rect x="507.5" y="776.6" width="7.0" height="7.0" rx="0.8" fill="#000"/>
<rect x="516.2" y="776.6" width="7.0" height="7.0" rx="0.8" fill="#000"/>
<rect x="525.4" y="780.8" width="7.0" height="7.0" rx="0.8" fill="#000"/>
<rect x="516.2" y="783.1" width="7.0" height="7.0" rx="0.8" fill="#000"/>
<rect x="516.2" y="793.7" width="7.0" height="7.0" rx="0.8" fill="#000"/>
<rect x="516.2" y="811.3" width="7.0" height="7.0" rx="0.8" fill="#000"/>
<rect x="516.2" y="824.9" width="7.0" height="7.0" rx="0.8" fill="#000"/>
<rect x="516.2" y="847.1" width="7.0" height="7.0" rx="0.8" fill="#000"/>
<rect x="516.2" y="872.3" width="7.0" height="7.0" rx="0.8" fill="#000"/>
<circle cx="590.8" cy="656.0" r="3.6" fill="#ff0000"/>
<circle cx="590.8" cy="686.8" r="3.6" fill="#ff0000"/>
<circle cx="590.8" cy="692.0" r="3.6" fill="#ff0000"/>
<circle cx="590.8" cy="701.0" r="3.6" fill="#ff0000"/>
<circle cx="595.1" cy="706.8" r="3.6" fill="#ff0000"/>
<circle cx="604.1" cy="707.3" r="3.6" fill="#ff0000"/>
<circle cx="586.2" cy="710.8" r="3.6" fill="#ff0000"/>
<circle cx="590.8" cy="728.8" r="3.6" fill="#ff0000"/>
<circle cx="590.8" cy="737.1" r="3.6" fill="#ff0000"/>
<circle cx="590.8" cy="741.7" r="3.6" fill="#ff0000"/>
<circle cx="577.5" cy="755.6" r="3.6" fill="#ff0000"/>
<circle cx="595.1" cy="756.8" r="3.6" fill="#ff0000"/>
<circle cx="604.1" cy="759.3" r="3.6" fill="#ff0000"/>
<circle cx="577.5" cy="761.6" r="3.6" fill="#ff0000"/>
<circle cx="586.2" cy="760.8" r="3.6" fill="#ff0000"/>
<circle cx="595.1" cy="764.3" r="3.6" fill="#ff0000"/>
<circle cx="586.2" cy="765.4" r="3.6" fill="#ff0000"/>
<circle cx="595.1" cy="771.8" r="3.6" fill="#ff0000"/>
<circle cx="586.2" cy="774.1" r="3.6" fill="#ff0000"/>
<circle cx="595.1" cy="777.0" r="3.6" fill="#ff0000"/>
<circle cx="586.2" cy="782.8" r="3.6" fill="#ff0000"/>
<circle cx="595.1" cy="783.1" r="3.6" fill="#ff0000"/>
<circle cx="590.8" cy="812.0" r="3.6" fill="#ff0000"/>
<circle cx="595.1" cy="841.2" r="3.6" fill="#ff0000"/>
<circle cx="586.2" cy="843.7" r="3.6" fill="#ff0000"/>
<line x1="519.7" y1="751.9" x2="519.7" y2="776.4" stroke="#3a3a3a" stroke-width="1.5" />
<line x1="504.4" y1="751.9" x2="535.0" y2="751.9" stroke="#3a3a3a" stroke-width="1.8" />
<line x1="504.4" y1="776.4" x2="535.0" y2="776.4" stroke="#3a3a3a" stroke-width="1.8" />
<line x1="590.8" y1="742.3" x2="590.8" y2="761.9" stroke="#ff5a5a" stroke-width="1.5" />
<line x1="575.3" y1="742.3" x2="606.3" y2="742.3" stroke="#ff5a5a" stroke-width="1.8" />
<line x1="575.3" y1="761.9" x2="606.3" y2="761.9" stroke="#ff5a5a" stroke-width="1.8" />
<line x1="458.6" y1="639.5" x2="458.6" y2="930.3" stroke="#000" stroke-width="2.2" />
<line x1="441.6" y1="930.3" x2="653.2" y2="930.3" stroke="#000" stroke-width="2.2" />
<line x1="441.6" y1="930.3" x2="458.6" y2="930.3" stroke="#000" stroke-width="1.8" />
<text x="436.1" y="940.2" font-size="27.5" text-anchor="end" fill="#000" >4</text>
<line x1="441.6" y1="872.1" x2="458.6" y2="872.1" stroke="#000" stroke-width="1.8" />
<text x="436.1" y="882.0" font-size="27.5" text-anchor="end" fill="#000" >5</text>
<line x1="441.6" y1="814.0" x2="458.6" y2="814.0" stroke="#000" stroke-width="1.8" />
<text x="436.1" y="823.9" font-size="27.5" text-anchor="end" fill="#000" >6</text>
<line x1="441.6" y1="755.8" x2="458.6" y2="755.8" stroke="#000" stroke-width="1.8" />
<text x="436.1" y="765.7" font-size="27.5" text-anchor="end" fill="#000" >7</text>
<line x1="441.6" y1="697.7" x2="458.6" y2="697.7" stroke="#000" stroke-width="1.8" />
<text x="436.1" y="707.6" font-size="27.5" text-anchor="end" fill="#000" >8</text>
<line x1="441.6" y1="639.5" x2="458.6" y2="639.5" stroke="#000" stroke-width="1.8" />
<text x="436.1" y="649.4" font-size="27.5" text-anchor="end" fill="#000" >9</text>
<line x1="519.6" y1="640.7" x2="583.6" y2="640.7" stroke="#000" stroke-width="1.6" />
<text x="551.6" y="637.2" font-size="30" text-anchor="middle" fill="#000" textLength="54.0" lengthAdjust="spacing" >n.s.</text>
<text x="548.0" y="593.0" font-size="26" text-anchor="middle" fill="#000" textLength="193.0" lengthAdjust="spacing" >Hindlimb stride</text>
<text transform="translate(400.0,783.8) rotate(-90)" x="0" y="0" font-size="28" text-anchor="middle" fill="#000" textLength="226.0" lengthAdjust="spacing">Stride length (cm)</text>
<rect x="871.5" y="789.6" width="58.9" height="138.4" stroke="#000" stroke-width="2.2" fill="#fff"/>
<rect x="940.6" y="797.2" width="59.7" height="130.8" stroke="#ff0000" stroke-width="2.2" fill="#fff"/>
<rect x="897.0" y="717.5" width="6.8" height="6.8" rx="0.8" fill="#000"/>
<rect x="892.4" y="757.5" width="6.8" height="6.8" rx="0.8" fill="#000"/>
<rect x="901.6" y="759.0" width="6.8" height="6.8" rx="0.8" fill="#000"/>
<rect x="897.0" y="769.8" width="6.8" height="6.8" rx="0.8" fill="#000"/>
<rect x="897.0" y="789.6" width="6.8" height="6.8" rx="0.8" fill="#000"/>
<rect x="892.4" y="797.0" width="6.8" height="6.8" rx="0.8" fill="#000"/>
<rect x="901.6" y="798.0" width="6.8" height="6.8" rx="0.8" fill="#000"/>
<rect x="897.0" y="813.3" width="6.8" height="6.8" rx="0.8" fill="#000"/>
<rect x="897.0" y="819.7" width="6.8" height="6.8" rx="0.8" fill="#000"/>
<rect x="897.0" y="838.5" width="6.8" height="6.8" rx="0.8" fill="#000"/>
<circle cx="970.2" cy="723.6" r="3.5" fill="#ff0000"/>
<circle cx="979.4" cy="720.9" r="3.5" fill="#ff0000"/>
<circle cx="970.2" cy="754.7" r="3.5" fill="#ff0000"/>
<circle cx="961.3" cy="792.8" r="3.5" fill="#ff0000"/>
<circle cx="970.2" cy="794.0" r="3.5" fill="#ff0000"/>
<circle cx="979.4" cy="793.5" r="3.5" fill="#ff0000"/>
<circle cx="970.2" cy="803.9" r="3.5" fill="#ff0000"/>
<circle cx="970.2" cy="808.8" r="3.5" fill="#ff0000"/>
<circle cx="961.3" cy="818.5" r="3.5" fill="#ff0000"/>
<circle cx="970.2" cy="817.2" r="3.5" fill="#ff0000"/>
<circle cx="979.4" cy="820.5" r="3.5" fill="#ff0000"/>
<circle cx="970.2" cy="833.3" r="3.5" fill="#ff0000"/>
<circle cx="970.2" cy="875.0" r="3.5" fill="#ff0000"/>
<line x1="900.4" y1="778.2" x2="900.4" y2="800.4" stroke="#3a3a3a" stroke-width="1.5" />
<line x1="885.1" y1="778.2" x2="915.7" y2="778.2" stroke="#3a3a3a" stroke-width="1.8" />
<line x1="885.1" y1="800.4" x2="915.7" y2="800.4" stroke="#3a3a3a" stroke-width="1.8" />
<line x1="970.2" y1="784.9" x2="970.2" y2="808.6" stroke="#ff5a5a" stroke-width="1.5" />
<line x1="954.9" y1="784.9" x2="985.5" y2="784.9" stroke="#ff5a5a" stroke-width="1.8" />
<line x1="954.9" y1="808.6" x2="985.5" y2="808.6" stroke="#ff5a5a" stroke-width="1.8" />
<line x1="839.7" y1="643.5" x2="839.7" y2="928.0" stroke="#000" stroke-width="2.2" />
<line x1="822.7" y1="928.0" x2="1031.5" y2="928.0" stroke="#000" stroke-width="2.2" />
<line x1="822.7" y1="928.0" x2="839.7" y2="928.0" stroke="#000" stroke-width="1.8" />
<text x="817.2" y="937.9" font-size="27.5" text-anchor="end" fill="#000" >0.0</text>
<line x1="822.7" y1="856.9" x2="839.7" y2="856.9" stroke="#000" stroke-width="1.8" />
<text x="817.2" y="866.8" font-size="27.5" text-anchor="end" fill="#000" >0.5</text>
<line x1="822.7" y1="785.8" x2="839.7" y2="785.8" stroke="#000" stroke-width="1.8" />
<text x="817.2" y="795.6" font-size="27.5" text-anchor="end" fill="#000" >1.0</text>
<line x1="822.7" y1="714.6" x2="839.7" y2="714.6" stroke="#000" stroke-width="1.8" />
<text x="817.2" y="724.5" font-size="27.5" text-anchor="end" fill="#000" >1.5</text>
<line x1="822.7" y1="643.5" x2="839.7" y2="643.5" stroke="#000" stroke-width="1.8" />
<text x="817.2" y="653.4" font-size="27.5" text-anchor="end" fill="#000" >2.0</text>
<line x1="902.0" y1="644.8" x2="968.5" y2="644.8" stroke="#000" stroke-width="1.6" />
<text x="935.2" y="641.3" font-size="30" text-anchor="middle" fill="#000" textLength="54.0" lengthAdjust="spacing" >n.s.</text>
<text x="931.6" y="594.5" font-size="26" text-anchor="middle" fill="#000" textLength="164.5" lengthAdjust="spacing" >Right overlap</text>
<text transform="translate(723.5,787.0) rotate(-90)" x="0" y="0" font-size="24" text-anchor="middle" fill="#000" textLength="367.0" lengthAdjust="spacing">Overlap between forepaw and</text>
<text transform="translate(756.5,783.0) rotate(-90)" x="0" y="0" font-size="24" text-anchor="middle" fill="#000" textLength="311.0" lengthAdjust="spacing">hindpaw placement (cm)</text>
<rect x="1231.3" y="761.6" width="58.7" height="165.8" stroke="#000" stroke-width="2.2" fill="#fff"/>
<rect x="1301.9" y="776.3" width="59.1" height="151.1" stroke="#ff0000" stroke-width="2.2" fill="#fff"/>
<rect x="1257.4" y="696.9" width="6.8" height="6.8" rx="0.8" fill="#000"/>
<rect x="1253.0" y="710.0" width="6.8" height="6.8" rx="0.8" fill="#000"/>
<rect x="1261.9" y="712.7" width="6.8" height="6.8" rx="0.8" fill="#000"/>
<rect x="1257.4" y="737.9" width="6.8" height="6.8" rx="0.8" fill="#000"/>
<rect x="1257.4" y="774.4" width="6.8" height="6.8" rx="0.8" fill="#000"/>
<rect x="1253.0" y="780.8" width="6.8" height="6.8" rx="0.8" fill="#000"/>
<rect x="1261.9" y="784.5" width="6.8" height="6.8" rx="0.8" fill="#000"/>
<rect x="1257.4" y="789.2" width="6.8" height="6.8" rx="0.8" fill="#000"/>
<rect x="1257.4" y="793.7" width="6.8" height="6.8" rx="0.8" fill="#000"/>
<rect x="1257.4" y="796.2" width="6.8" height="6.8" rx="0.8" fill="#000"/>
<rect x="1257.4" y="802.3" width="6.8" height="6.8" rx="0.8" fill="#000"/>
<circle cx="1331.7" cy="695.0" r="3.5" fill="#ff0000"/>
<circle cx="1331.7" cy="715.4" r="3.5" fill="#ff0000"/>
<circle cx="1327.3" cy="756.1" r="3.5" fill="#ff0000"/>
<circle cx="1336.2" cy="756.1" r="3.5" fill="#ff0000"/>
<circle cx="1336.2" cy="761.0" r="3.5" fill="#ff0000"/>
<circle cx="1327.3" cy="765.0" r="3.5" fill="#ff0000"/>
<circle cx="1327.3" cy="775.8" r="3.5" fill="#ff0000"/>
<circle cx="1336.2" cy="775.8" r="3.5" fill="#ff0000"/>
<circle cx="1327.3" cy="783.7" r="3.5" fill="#ff0000"/>
<circle cx="1336.2" cy="786.2" r="3.5" fill="#ff0000"/>
<circle cx="1331.7" cy="812.6" r="3.5" fill="#ff0000"/>
<circle cx="1331.7" cy="839.3" r="3.5" fill="#ff0000"/>
<circle cx="1331.7" cy="863.8" r="3.5" fill="#ff0000"/>
<line x1="1260.8" y1="749.2" x2="1260.8" y2="774.7" stroke="#3a3a3a" stroke-width="1.5" />
<line x1="1245.5" y1="749.2" x2="1276.1" y2="749.2" stroke="#3a3a3a" stroke-width="1.8" />
<line x1="1245.5" y1="774.7" x2="1276.1" y2="774.7" stroke="#3a3a3a" stroke-width="1.8" />
<line x1="1331.7" y1="763.5" x2="1331.7" y2="788.7" stroke="#ff5a5a" stroke-width="1.5" />
<line x1="1316.4" y1="763.5" x2="1347.0" y2="763.5" stroke="#ff5a5a" stroke-width="1.8" />
<line x1="1316.4" y1="788.7" x2="1347.0" y2="788.7" stroke="#ff5a5a" stroke-width="1.8" />
<line x1="1199.3" y1="636.9" x2="1199.3" y2="927.4" stroke="#000" stroke-width="2.2" />
<line x1="1182.2" y1="927.4" x2="1393.8" y2="927.4" stroke="#000" stroke-width="2.2" />
<line x1="1182.2" y1="927.4" x2="1199.3" y2="927.4" stroke="#000" stroke-width="1.8" />
<text x="1176.7" y="937.3" font-size="27.5" text-anchor="end" fill="#000" >0.0</text>
<line x1="1182.2" y1="830.6" x2="1199.3" y2="830.6" stroke="#000" stroke-width="1.8" />
<text x="1176.7" y="840.5" font-size="27.5" text-anchor="end" fill="#000" >0.5</text>
<line x1="1182.2" y1="733.7" x2="1199.3" y2="733.7" stroke="#000" stroke-width="1.8" />
<text x="1176.7" y="743.6" font-size="27.5" text-anchor="end" fill="#000" >1.0</text>
<line x1="1182.2" y1="636.9" x2="1199.3" y2="636.9" stroke="#000" stroke-width="1.8" />
<text x="1176.7" y="646.8" font-size="27.5" text-anchor="end" fill="#000" >1.5</text>
<line x1="1260.3" y1="639.0" x2="1329.6" y2="639.0" stroke="#000" stroke-width="1.6" />
<text x="1294.9" y="635.5" font-size="30" text-anchor="middle" fill="#000" textLength="54.0" lengthAdjust="spacing" >n.s.</text>
<text x="1292.0" y="592.8" font-size="26" text-anchor="middle" fill="#000" textLength="128.5" lengthAdjust="spacing" >Hind base</text>
<text transform="translate(1119.0,783.7) rotate(-90)" x="0" y="0" font-size="28" text-anchor="middle" fill="#000" textLength="268.0" lengthAdjust="spacing">Hind-base width (cm)</text>
<rect x="475.2" y="1436.5" width="57.9" height="150.1" stroke="#000" stroke-width="2.2" fill="#fff"/>
<rect x="544.5" y="1457.5" width="58.5" height="129.1" stroke="#ff0000" stroke-width="2.2" fill="#fff"/>
<rect x="496.4" y="1340.7" width="6.2" height="6.2" rx="0.8" fill="#000"/>
<rect x="496.4" y="1347.4" width="6.2" height="6.2" rx="0.8" fill="#000"/>
<rect x="505.2" y="1344.8" width="6.2" height="6.2" rx="0.8" fill="#000"/>
<rect x="500.9" y="1359.9" width="6.2" height="6.2" rx="0.8" fill="#000"/>
<rect x="500.9" y="1369.2" width="6.2" height="6.2" rx="0.8" fill="#000"/>
<rect x="496.4" y="1377.5" width="6.2" height="6.2" rx="0.8" fill="#000"/>
<rect x="505.2" y="1376.4" width="6.2" height="6.2" rx="0.8" fill="#000"/>
<rect x="505.2" y="1382.6" width="6.2" height="6.2" rx="0.8" fill="#000"/>
<rect x="505.2" y="1388.9" width="6.2" height="6.2" rx="0.8" fill="#000"/>
<rect x="505.2" y="1394.0" width="6.2" height="6.2" rx="0.8" fill="#000"/>
<rect x="514.0" y="1384.7" width="6.2" height="6.2" rx="0.8" fill="#000"/>
<rect x="487.4" y="1388.9" width="6.2" height="6.2" rx="0.8" fill="#000"/>
<rect x="478.3" y="1392.0" width="6.2" height="6.2" rx="0.8" fill="#000"/>
<rect x="523.0" y="1388.9" width="6.2" height="6.2" rx="0.8" fill="#000"/>
<rect x="496.4" y="1396.6" width="6.2" height="6.2" rx="0.8" fill="#000"/>
<rect x="487.4" y="1408.5" width="6.2" height="6.2" rx="0.8" fill="#000"/>
<rect x="496.4" y="1408.5" width="6.2" height="6.2" rx="0.8" fill="#000"/>
<rect x="505.2" y="1404.9" width="6.2" height="6.2" rx="0.8" fill="#000"/>
<rect x="505.2" y="1410.6" width="6.2" height="6.2" rx="0.8" fill="#000"/>
<rect x="514.0" y="1407.0" width="6.2" height="6.2" rx="0.8" fill="#000"/>
<rect x="523.0" y="1409.6" width="6.2" height="6.2" rx="0.8" fill="#000"/>
<rect x="500.9" y="1420.4" width="6.2" height="6.2" rx="0.8" fill="#000"/>
<rect x="500.9" y="1425.1" width="6.2" height="6.2" rx="0.8" fill="#000"/>
<rect x="491.2" y="1427.7" width="6.2" height="6.2" rx="0.8" fill="#000"/>
<rect x="509.4" y="1426.7" width="6.2" height="6.2" rx="0.8" fill="#000"/>
<rect x="514.0" y="1432.9" width="6.2" height="6.2" rx="0.8" fill="#000"/>
<rect x="478.3" y="1438.6" width="6.2" height="6.2" rx="0.8" fill="#000"/>
<rect x="487.4" y="1439.1" width="6.2" height="6.2" rx="0.8" fill="#000"/>
<rect x="496.4" y="1437.5" width="6.2" height="6.2" rx="0.8" fill="#000"/>
<rect x="505.2" y="1437.5" width="6.2" height="6.2" rx="0.8" fill="#000"/>
<rect x="514.0" y="1440.6" width="6.2" height="6.2" rx="0.8" fill="#000"/>
<rect x="523.0" y="1440.6" width="6.2" height="6.2" rx="0.8" fill="#000"/>
<rect x="500.9" y="1455.7" width="6.2" height="6.2" rx="0.8" fill="#000"/>
<rect x="496.4" y="1466.5" width="6.2" height="6.2" rx="0.8" fill="#000"/>
<rect x="505.2" y="1465.5" width="6.2" height="6.2" rx="0.8" fill="#000"/>
<rect x="496.4" y="1471.7" width="6.2" height="6.2" rx="0.8" fill="#000"/>
<rect x="505.2" y="1472.7" width="6.2" height="6.2" rx="0.8" fill="#000"/>
<rect x="505.2" y="1477.9" width="6.2" height="6.2" rx="0.8" fill="#000"/>
<rect x="496.4" y="1479.5" width="6.2" height="6.2" rx="0.8" fill="#000"/>
<rect x="505.2" y="1492.4" width="6.2" height="6.2" rx="0.8" fill="#000"/>
<rect x="496.4" y="1496.6" width="6.2" height="6.2" rx="0.8" fill="#000"/>
<rect x="500.9" y="1511.6" width="6.2" height="6.2" rx="0.8" fill="#000"/>
<rect x="487.4" y="1518.8" width="6.2" height="6.2" rx="0.8" fill="#000"/>
<rect x="496.4" y="1521.4" width="6.2" height="6.2" rx="0.8" fill="#000"/>
<rect x="505.2" y="1520.9" width="6.2" height="6.2" rx="0.8" fill="#000"/>
<rect x="514.0" y="1517.8" width="6.2" height="6.2" rx="0.8" fill="#000"/>
<rect x="500.9" y="1527.1" width="6.2" height="6.2" rx="0.8" fill="#000"/>
<rect x="500.9" y="1538.0" width="6.2" height="6.2" rx="0.8" fill="#000"/>
<circle cx="574.0" cy="1369.1" r="3.3" fill="#ff0000"/>
<circle cx="574.0" cy="1384.5" r="3.3" fill="#ff0000"/>
<circle cx="569.5" cy="1393.7" r="3.3" fill="#ff0000"/>
<circle cx="569.5" cy="1399.1" r="3.3" fill="#ff0000"/>
<circle cx="578.3" cy="1396.2" r="3.3" fill="#ff0000"/>
<circle cx="578.3" cy="1401.4" r="3.3" fill="#ff0000"/>
<circle cx="574.0" cy="1405.9" r="3.3" fill="#ff0000"/>
<circle cx="569.5" cy="1412.8" r="3.3" fill="#ff0000"/>
<circle cx="569.5" cy="1417.8" r="3.3" fill="#ff0000"/>
<circle cx="560.5" cy="1416.4" r="3.3" fill="#ff0000"/>
<circle cx="587.1" cy="1415.7" r="3.3" fill="#ff0000"/>
<circle cx="578.3" cy="1419.2" r="3.3" fill="#ff0000"/>
<circle cx="560.5" cy="1423.7" r="3.3" fill="#ff0000"/>
<circle cx="569.5" cy="1427.8" r="3.3" fill="#ff0000"/>
<circle cx="578.3" cy="1425.8" r="3.3" fill="#ff0000"/>
<circle cx="587.1" cy="1426.3" r="3.3" fill="#ff0000"/>
<circle cx="564.9" cy="1433.0" r="3.3" fill="#ff0000"/>
<circle cx="574.0" cy="1433.5" r="3.3" fill="#ff0000"/>
<circle cx="582.8" cy="1433.0" r="3.3" fill="#ff0000"/>
<circle cx="551.7" cy="1442.9" r="3.3" fill="#ff0000"/>
<circle cx="551.7" cy="1447.5" r="3.3" fill="#ff0000"/>
<circle cx="569.5" cy="1443.4" r="3.3" fill="#ff0000"/>
<circle cx="578.3" cy="1446.5" r="3.3" fill="#ff0000"/>
<circle cx="596.1" cy="1440.8" r="3.3" fill="#ff0000"/>
<circle cx="596.1" cy="1445.4" r="3.3" fill="#ff0000"/>
<circle cx="560.5" cy="1452.7" r="3.3" fill="#ff0000"/>
<circle cx="569.5" cy="1449.1" r="3.3" fill="#ff0000"/>
<circle cx="569.5" cy="1453.7" r="3.3" fill="#ff0000"/>
<circle cx="587.1" cy="1448.0" r="3.3" fill="#ff0000"/>
<circle cx="587.1" cy="1452.7" r="3.3" fill="#ff0000"/>
<circle cx="578.3" cy="1455.8" r="3.3" fill="#ff0000"/>
<circle cx="560.5" cy="1462.0" r="3.3" fill="#ff0000"/>
<circle cx="569.5" cy="1464.6" r="3.3" fill="#ff0000"/>
<circle cx="587.1" cy="1461.0" r="3.3" fill="#ff0000"/>
<circle cx="578.3" cy="1467.2" r="3.3" fill="#ff0000"/>
<circle cx="569.5" cy="1469.8" r="3.3" fill="#ff0000"/>
<circle cx="574.0" cy="1476.0" r="3.3" fill="#ff0000"/>
<circle cx="574.0" cy="1483.8" r="3.3" fill="#ff0000"/>
<circle cx="551.7" cy="1490.7" r="3.3" fill="#ff0000"/>
<circle cx="560.5" cy="1492.0" r="3.3" fill="#ff0000"/>
<circle cx="569.5" cy="1494.4" r="3.3" fill="#ff0000"/>
<circle cx="578.3" cy="1494.4" r="3.3" fill="#ff0000"/>
<circle cx="587.1" cy="1491.0" r="3.3" fill="#ff0000"/>
<circle cx="596.1" cy="1491.0" r="3.3" fill="#ff0000"/>
<circle cx="574.0" cy="1499.1" r="3.3" fill="#ff0000"/>
<circle cx="560.5" cy="1515.3" r="3.3" fill="#ff0000"/>
<circle cx="569.5" cy="1516.9" r="3.3" fill="#ff0000"/>
<circle cx="578.3" cy="1517.9" r="3.3" fill="#ff0000"/>
<circle cx="587.1" cy="1515.3" r="3.3" fill="#ff0000"/>
<circle cx="569.5" cy="1522.6" r="3.3" fill="#ff0000"/>
<circle cx="574.0" cy="1528.3" r="3.3" fill="#ff0000"/>
<circle cx="574.0" cy="1537.6" r="3.3" fill="#ff0000"/>
<circle cx="574.0" cy="1550.0" r="3.3" fill="#ff0000"/>
<circle cx="574.0" cy="1559.9" r="3.3" fill="#ff0000"/>
<line x1="504.0" y1="1428.7" x2="504.0" y2="1441.7" stroke="#3a3a3a" stroke-width="1.5" />
<line x1="488.7" y1="1428.7" x2="519.3" y2="1428.7" stroke="#3a3a3a" stroke-width="1.8" />
<line x1="488.7" y1="1441.7" x2="519.3" y2="1441.7" stroke="#3a3a3a" stroke-width="1.8" />
<line x1="574.0" y1="1451.1" x2="574.0" y2="1463.6" stroke="#ff5a5a" stroke-width="1.5" />
<line x1="562.0" y1="1451.1" x2="586.0" y2="1451.1" stroke="#ff5a5a" stroke-width="1.8" />
<line x1="562.0" y1="1463.6" x2="586.0" y2="1463.6" stroke="#ff5a5a" stroke-width="1.8" />
<line x1="443.7" y1="1300.8" x2="443.7" y2="1586.6" stroke="#000" stroke-width="2.2" />
<line x1="425.9" y1="1586.6" x2="635.5" y2="1586.6" stroke="#000" stroke-width="2.2" />
<line x1="425.9" y1="1586.6" x2="443.7" y2="1586.6" stroke="#000" stroke-width="1.8" />
<text x="420.4" y="1596.5" font-size="27.5" text-anchor="end" fill="#000" >5</text>
<line x1="425.9" y1="1515.1" x2="443.7" y2="1515.1" stroke="#000" stroke-width="1.8" />
<text x="420.4" y="1525.0" font-size="27.5" text-anchor="end" fill="#000" >6</text>
<line x1="425.9" y1="1443.7" x2="443.7" y2="1443.7" stroke="#000" stroke-width="1.8" />
<text x="420.4" y="1453.6" font-size="27.5" text-anchor="end" fill="#000" >7</text>
<line x1="425.9" y1="1372.2" x2="443.7" y2="1372.2" stroke="#000" stroke-width="1.8" />
<text x="420.4" y="1382.2" font-size="27.5" text-anchor="end" fill="#000" >8</text>
<line x1="425.9" y1="1300.8" x2="443.7" y2="1300.8" stroke="#000" stroke-width="1.8" />
<text x="420.4" y="1310.7" font-size="27.5" text-anchor="end" fill="#000" >9</text>
<line x1="505.1" y1="1303.0" x2="571.7" y2="1303.0" stroke="#000" stroke-width="1.6" />
<text x="539.4" y="1313.0" font-size="44" text-anchor="middle" fill="#000" stroke="#000" stroke-width="0.8">*</text>
<text x="533.5" y="1253.5" font-size="26" text-anchor="middle" fill="#000" textLength="192.5" lengthAdjust="spacing" >Forelimb stride</text>
<text transform="translate(385.0,1444.8) rotate(-90)" x="0" y="0" font-size="28" text-anchor="middle" fill="#000" textLength="226.0" lengthAdjust="spacing">Stride length (cm)</text>
<rect x="892.6" y="1484.2" width="59.4" height="100.4" stroke="#000" stroke-width="2.2" fill="#fff"/>
<rect x="961.7" y="1496.4" width="60.5" height="88.2" stroke="#ff0000" stroke-width="2.2" fill="#fff"/>
<rect x="918.6" y="1360.7" width="6.2" height="6.2" rx="0.8" fill="#000"/>
<rect x="918.6" y="1381.4" width="6.2" height="6.2" rx="0.8" fill="#000"/>
<rect x="922.7" y="1415.6" width="6.2" height="6.2" rx="0.8" fill="#000"/>
<rect x="914.9" y="1418.7" width="6.2" height="6.2" rx="0.8" fill="#000"/>
<rect x="918.6" y="1422.8" width="6.2" height="6.2" rx="0.8" fill="#000"/>
<rect x="918.6" y="1437.3" width="6.2" height="6.2" rx="0.8" fill="#000"/>
<rect x="918.6" y="1449.8" width="6.2" height="6.2" rx="0.8" fill="#000"/>
<rect x="918.6" y="1457.5" width="6.2" height="6.2" rx="0.8" fill="#000"/>
<rect x="918.6" y="1468.9" width="6.2" height="6.2" rx="0.8" fill="#000"/>
<rect x="914.9" y="1473.6" width="6.2" height="6.2" rx="0.8" fill="#000"/>
<rect x="922.7" y="1475.1" width="6.2" height="6.2" rx="0.8" fill="#000"/>
<rect x="922.7" y="1480.3" width="6.2" height="6.2" rx="0.8" fill="#000"/>
<rect x="890.9" y="1480.8" width="6.2" height="6.2" rx="0.8" fill="#000"/>
<rect x="898.9" y="1479.3" width="6.2" height="6.2" rx="0.8" fill="#000"/>
<rect x="907.0" y="1480.3" width="6.2" height="6.2" rx="0.8" fill="#000"/>
<rect x="914.9" y="1481.9" width="6.2" height="6.2" rx="0.8" fill="#000"/>
<rect x="930.5" y="1481.9" width="6.2" height="6.2" rx="0.8" fill="#000"/>
<rect x="938.8" y="1481.9" width="6.2" height="6.2" rx="0.8" fill="#000"/>
<rect x="947.0" y="1482.4" width="6.2" height="6.2" rx="0.8" fill="#000"/>
<rect x="890.9" y="1489.6" width="6.2" height="6.2" rx="0.8" fill="#000"/>
<rect x="898.9" y="1486.5" width="6.2" height="6.2" rx="0.8" fill="#000"/>
<rect x="907.0" y="1487.6" width="6.2" height="6.2" rx="0.8" fill="#000"/>
<rect x="914.9" y="1486.5" width="6.2" height="6.2" rx="0.8" fill="#000"/>
<rect x="922.7" y="1489.6" width="6.2" height="6.2" rx="0.8" fill="#000"/>
<rect x="930.5" y="1490.7" width="6.2" height="6.2" rx="0.8" fill="#000"/>
<rect x="938.8" y="1487.6" width="6.2" height="6.2" rx="0.8" fill="#000"/>
<rect x="947.0" y="1488.6" width="6.2" height="6.2" rx="0.8" fill="#000"/>
<rect x="898.9" y="1493.8" width="6.2" height="6.2" rx="0.8" fill="#000"/>
<rect x="907.0" y="1494.8" width="6.2" height="6.2" rx="0.8" fill="#000"/>
<rect x="938.8" y="1493.3" width="6.2" height="6.2" rx="0.8" fill="#000"/>
<rect x="907.0" y="1497.9" width="6.2" height="6.2" rx="0.8" fill="#000"/>
<rect x="914.9" y="1501.5" width="6.2" height="6.2" rx="0.8" fill="#000"/>
<rect x="922.7" y="1501.5" width="6.2" height="6.2" rx="0.8" fill="#000"/>
<rect x="898.9" y="1505.2" width="6.2" height="6.2" rx="0.8" fill="#000"/>
<rect x="898.9" y="1509.3" width="6.2" height="6.2" rx="0.8" fill="#000"/>
<rect x="907.0" y="1509.3" width="6.2" height="6.2" rx="0.8" fill="#000"/>
<rect x="930.5" y="1505.2" width="6.2" height="6.2" rx="0.8" fill="#000"/>
<rect x="922.7" y="1509.3" width="6.2" height="6.2" rx="0.8" fill="#000"/>
<rect x="938.8" y="1509.8" width="6.2" height="6.2" rx="0.8" fill="#000"/>
<rect x="914.9" y="1511.9" width="6.2" height="6.2" rx="0.8" fill="#000"/>
<rect x="918.6" y="1516.6" width="6.2" height="6.2" rx="0.8" fill="#000"/>
<rect x="914.9" y="1524.3" width="6.2" height="6.2" rx="0.8" fill="#000"/>
<rect x="922.7" y="1524.8" width="6.2" height="6.2" rx="0.8" fill="#000"/>
<rect x="914.9" y="1535.2" width="6.2" height="6.2" rx="0.8" fill="#000"/>
<rect x="922.7" y="1536.2" width="6.2" height="6.2" rx="0.8" fill="#000"/>
<rect x="918.6" y="1541.9" width="6.2" height="6.2" rx="0.8" fill="#000"/>
<circle cx="991.8" cy="1411.2" r="3.3" fill="#ff0000"/>
<circle cx="978.6" cy="1442.8" r="3.3" fill="#ff0000"/>
<circle cx="987.4" cy="1447.0" r="3.3" fill="#ff0000"/>
<circle cx="996.2" cy="1447.0" r="3.3" fill="#ff0000"/>
<circle cx="969.7" cy="1453.9" r="3.3" fill="#ff0000"/>
<circle cx="978.6" cy="1457.8" r="3.3" fill="#ff0000"/>
<circle cx="987.4" cy="1459.7" r="3.3" fill="#ff0000"/>
<circle cx="996.2" cy="1454.7" r="3.3" fill="#ff0000"/>
<circle cx="996.2" cy="1460.1" r="3.3" fill="#ff0000"/>
<circle cx="1005.2" cy="1457.0" r="3.3" fill="#ff0000"/>
<circle cx="1005.2" cy="1462.0" r="3.3" fill="#ff0000"/>
<circle cx="1013.9" cy="1457.8" r="3.3" fill="#ff0000"/>
<circle cx="991.8" cy="1472.1" r="3.3" fill="#ff0000"/>
<circle cx="969.7" cy="1486.3" r="3.3" fill="#ff0000"/>
<circle cx="969.7" cy="1491.3" r="3.3" fill="#ff0000"/>
<circle cx="978.6" cy="1482.5" r="3.3" fill="#ff0000"/>
<circle cx="978.6" cy="1491.3" r="3.3" fill="#ff0000"/>
<circle cx="987.4" cy="1485.9" r="3.3" fill="#ff0000"/>
<circle cx="996.2" cy="1485.2" r="3.3" fill="#ff0000"/>
<circle cx="996.2" cy="1490.2" r="3.3" fill="#ff0000"/>
<circle cx="1005.2" cy="1482.9" r="3.3" fill="#ff0000"/>
<circle cx="1005.2" cy="1492.1" r="3.3" fill="#ff0000"/>
<circle cx="1013.9" cy="1482.9" r="3.3" fill="#ff0000"/>
<circle cx="1013.9" cy="1490.9" r="3.3" fill="#ff0000"/>
<circle cx="987.4" cy="1493.3" r="3.3" fill="#ff0000"/>
<circle cx="969.7" cy="1501.0" r="3.3" fill="#ff0000"/>
<circle cx="969.7" cy="1506.4" r="3.3" fill="#ff0000"/>
<circle cx="978.6" cy="1504.8" r="3.3" fill="#ff0000"/>
<circle cx="978.6" cy="1511.0" r="3.3" fill="#ff0000"/>
<circle cx="987.4" cy="1504.8" r="3.3" fill="#ff0000"/>
<circle cx="996.2" cy="1503.3" r="3.3" fill="#ff0000"/>
<circle cx="996.2" cy="1507.9" r="3.3" fill="#ff0000"/>
<circle cx="996.2" cy="1512.5" r="3.3" fill="#ff0000"/>
<circle cx="996.2" cy="1517.1" r="3.3" fill="#ff0000"/>
<circle cx="1005.2" cy="1501.7" r="3.3" fill="#ff0000"/>
<circle cx="1005.2" cy="1506.7" r="3.3" fill="#ff0000"/>
<circle cx="987.4" cy="1513.3" r="3.3" fill="#ff0000"/>
<circle cx="987.4" cy="1517.1" r="3.3" fill="#ff0000"/>
<circle cx="969.7" cy="1528.3" r="3.3" fill="#ff0000"/>
<circle cx="978.6" cy="1525.6" r="3.3" fill="#ff0000"/>
<circle cx="987.4" cy="1524.9" r="3.3" fill="#ff0000"/>
<circle cx="987.4" cy="1529.5" r="3.3" fill="#ff0000"/>
<circle cx="987.4" cy="1535.6" r="3.3" fill="#ff0000"/>
<circle cx="996.2" cy="1526.4" r="3.3" fill="#ff0000"/>
<circle cx="996.2" cy="1531.8" r="3.3" fill="#ff0000"/>
<circle cx="996.2" cy="1537.6" r="3.3" fill="#ff0000"/>
<circle cx="1005.2" cy="1526.8" r="3.3" fill="#ff0000"/>
<circle cx="1005.2" cy="1533.7" r="3.3" fill="#ff0000"/>
<circle cx="1013.9" cy="1525.6" r="3.3" fill="#ff0000"/>
<circle cx="987.4" cy="1543.7" r="3.3" fill="#ff0000"/>
<circle cx="996.2" cy="1546.1" r="3.3" fill="#ff0000"/>
<circle cx="991.8" cy="1551.4" r="3.3" fill="#ff0000"/>
<line x1="921.7" y1="1481.0" x2="921.7" y2="1495.0" stroke="#3a3a3a" stroke-width="1.5" />
<line x1="906.7" y1="1481.0" x2="936.7" y2="1481.0" stroke="#3a3a3a" stroke-width="1.8" />
<line x1="906.7" y1="1495.0" x2="936.7" y2="1495.0" stroke="#3a3a3a" stroke-width="1.8" />
<line x1="991.8" y1="1491.0" x2="991.8" y2="1503.0" stroke="#ff5a5a" stroke-width="1.5" />
<line x1="977.8" y1="1491.0" x2="1005.8" y2="1491.0" stroke="#ff5a5a" stroke-width="1.8" />
<line x1="977.8" y1="1503.0" x2="1005.8" y2="1503.0" stroke="#ff5a5a" stroke-width="1.8" />
<line x1="861.3" y1="1298.8" x2="861.3" y2="1584.6" stroke="#000" stroke-width="2.2" />
<line x1="844.3" y1="1584.6" x2="1053.2" y2="1584.6" stroke="#000" stroke-width="2.2" />
<line x1="844.3" y1="1584.6" x2="861.3" y2="1584.6" stroke="#000" stroke-width="1.8" />
<text x="838.8" y="1594.5" font-size="27.5" text-anchor="end" fill="#000" >0.0</text>
<line x1="844.3" y1="1527.4" x2="861.3" y2="1527.4" stroke="#000" stroke-width="1.8" />
<text x="838.8" y="1537.3" font-size="27.5" text-anchor="end" fill="#000" >0.5</text>
<line x1="844.3" y1="1470.3" x2="861.3" y2="1470.3" stroke="#000" stroke-width="1.8" />
<text x="838.8" y="1480.2" font-size="27.5" text-anchor="end" fill="#000" >1.0</text>
<line x1="844.3" y1="1413.1" x2="861.3" y2="1413.1" stroke="#000" stroke-width="1.8" />
<text x="838.8" y="1423.0" font-size="27.5" text-anchor="end" fill="#000" >1.5</text>
<line x1="844.3" y1="1356.0" x2="861.3" y2="1356.0" stroke="#000" stroke-width="1.8" />
<text x="838.8" y="1365.9" font-size="27.5" text-anchor="end" fill="#000" >2.0</text>
<line x1="844.3" y1="1298.8" x2="861.3" y2="1298.8" stroke="#000" stroke-width="1.8" />
<text x="838.8" y="1308.7" font-size="27.5" text-anchor="end" fill="#000" >2.5</text>
<line x1="918.0" y1="1300.8" x2="995.5" y2="1300.8" stroke="#000" stroke-width="1.6" />
<text x="956.8" y="1297.3" font-size="30" text-anchor="middle" fill="#000" textLength="54.0" lengthAdjust="spacing" >n.s.</text>
<text x="918.2" y="1253.5" font-size="26" text-anchor="middle" fill="#000" textLength="145.5" lengthAdjust="spacing" >Left overlap</text>
<text transform="translate(744.0,1443.6) rotate(-90)" x="0" y="0" font-size="24" text-anchor="middle" fill="#000" textLength="368.0" lengthAdjust="spacing">Overlap between forepaw and</text>
<text transform="translate(778.0,1440.4) rotate(-90)" x="0" y="0" font-size="24" text-anchor="middle" fill="#000" textLength="311.0" lengthAdjust="spacing">hindpaw placement (cm)</text>
<rect x="1254.8" y="1422.8" width="57.2" height="160.0" stroke="#000" stroke-width="2.2" fill="#fff"/>
<rect x="1323.3" y="1421.6" width="57.9" height="161.2" stroke="#ff0000" stroke-width="2.2" fill="#fff"/>
<rect x="1280.4" y="1376.6" width="6.0" height="6.0" rx="0.8" fill="#000"/>
<rect x="1280.4" y="1381.1" width="6.0" height="6.0" rx="0.8" fill="#000"/>
<rect x="1271.5" y="1391.0" width="6.0" height="6.0" rx="0.8" fill="#000"/>
<rect x="1280.4" y="1390.5" width="6.0" height="6.0" rx="0.8" fill="#000"/>
<rect x="1289.3" y="1390.0" width="6.0" height="6.0" rx="0.8" fill="#000"/>
<rect x="1275.7" y="1396.9" width="6.0" height="6.0" rx="0.8" fill="#000"/>
<rect x="1285.0" y="1396.9" width="6.0" height="6.0" rx="0.8" fill="#000"/>
<rect x="1280.4" y="1403.3" width="6.0" height="6.0" rx="0.8" fill="#000"/>
<rect x="1271.5" y="1407.3" width="6.0" height="6.0" rx="0.8" fill="#000"/>
<rect x="1289.3" y="1407.8" width="6.0" height="6.0" rx="0.8" fill="#000"/>
<rect x="1280.4" y="1410.2" width="6.0" height="6.0" rx="0.8" fill="#000"/>
<rect x="1280.4" y="1415.2" width="6.0" height="6.0" rx="0.8" fill="#000"/>
<rect x="1271.5" y="1417.6" width="6.0" height="6.0" rx="0.8" fill="#000"/>
<rect x="1289.3" y="1415.2" width="6.0" height="6.0" rx="0.8" fill="#000"/>
<rect x="1289.3" y="1419.1" width="6.0" height="6.0" rx="0.8" fill="#000"/>
<rect x="1280.4" y="1425.1" width="6.0" height="6.0" rx="0.8" fill="#000"/>
<rect x="1280.4" y="1432.8" width="6.0" height="6.0" rx="0.8" fill="#000"/>
<rect x="1271.5" y="1440.9" width="6.0" height="6.0" rx="0.8" fill="#000"/>
<rect x="1280.4" y="1440.4" width="6.0" height="6.0" rx="0.8" fill="#000"/>
<rect x="1289.3" y="1440.9" width="6.0" height="6.0" rx="0.8" fill="#000"/>
<rect x="1275.7" y="1453.7" width="6.0" height="6.0" rx="0.8" fill="#000"/>
<rect x="1285.0" y="1452.7" width="6.0" height="6.0" rx="0.8" fill="#000"/>
<rect x="1280.4" y="1467.0" width="6.0" height="6.0" rx="0.8" fill="#000"/>
<rect x="1280.4" y="1481.4" width="6.0" height="6.0" rx="0.8" fill="#000"/>
<circle cx="1348.1" cy="1354.9" r="3.2" fill="#ff0000"/>
<circle cx="1356.9" cy="1355.7" r="3.2" fill="#ff0000"/>
<circle cx="1348.1" cy="1365.3" r="3.2" fill="#ff0000"/>
<circle cx="1356.9" cy="1368.8" r="3.2" fill="#ff0000"/>
<circle cx="1339.4" cy="1392.0" r="3.2" fill="#ff0000"/>
<circle cx="1348.1" cy="1393.0" r="3.2" fill="#ff0000"/>
<circle cx="1356.9" cy="1394.0" r="3.2" fill="#ff0000"/>
<circle cx="1365.8" cy="1390.0" r="3.2" fill="#ff0000"/>
<circle cx="1339.4" cy="1400.9" r="3.2" fill="#ff0000"/>
<circle cx="1348.1" cy="1401.9" r="3.2" fill="#ff0000"/>
<circle cx="1365.8" cy="1398.2" r="3.2" fill="#ff0000"/>
<circle cx="1348.1" cy="1408.8" r="3.2" fill="#ff0000"/>
<circle cx="1356.9" cy="1409.8" r="3.2" fill="#ff0000"/>
<circle cx="1356.9" cy="1420.6" r="3.2" fill="#ff0000"/>
<circle cx="1348.1" cy="1423.6" r="3.2" fill="#ff0000"/>
<circle cx="1348.1" cy="1429.5" r="3.2" fill="#ff0000"/>
<circle cx="1356.9" cy="1429.5" r="3.2" fill="#ff0000"/>
<circle cx="1352.6" cy="1436.9" r="3.2" fill="#ff0000"/>
<circle cx="1348.1" cy="1447.3" r="3.2" fill="#ff0000"/>
<circle cx="1339.4" cy="1451.3" r="3.2" fill="#ff0000"/>
<circle cx="1348.1" cy="1451.8" r="3.2" fill="#ff0000"/>
<circle cx="1356.9" cy="1454.2" r="3.2" fill="#ff0000"/>
<circle cx="1343.9" cy="1467.6" r="3.2" fill="#ff0000"/>
<circle cx="1352.6" cy="1467.1" r="3.2" fill="#ff0000"/>
<circle cx="1361.5" cy="1470.0" r="3.2" fill="#ff0000"/>
<circle cx="1348.1" cy="1488.3" r="3.2" fill="#ff0000"/>
<circle cx="1356.9" cy="1486.8" r="3.2" fill="#ff0000"/>
<line x1="1283.4" y1="1416.4" x2="1283.4" y2="1427.9" stroke="#3a3a3a" stroke-width="1.5" />
<line x1="1268.4" y1="1416.4" x2="1298.5" y2="1416.4" stroke="#3a3a3a" stroke-width="1.8" />
<line x1="1268.4" y1="1427.9" x2="1298.5" y2="1427.9" stroke="#3a3a3a" stroke-width="1.8" />
<line x1="1352.6" y1="1413.2" x2="1352.6" y2="1428.0" stroke="#ff5a5a" stroke-width="1.5" />
<line x1="1337.2" y1="1413.2" x2="1367.9" y2="1413.2" stroke="#ff5a5a" stroke-width="1.8" />
<line x1="1337.2" y1="1428.0" x2="1367.9" y2="1428.0" stroke="#ff5a5a" stroke-width="1.8" />
<line x1="1223.8" y1="1300.1" x2="1223.8" y2="1582.8" stroke="#000" stroke-width="2.2" />
<line x1="1206.6" y1="1582.8" x2="1412.7" y2="1582.8" stroke="#000" stroke-width="2.2" />
<line x1="1206.6" y1="1582.8" x2="1223.8" y2="1582.8" stroke="#000" stroke-width="1.8" />
<text x="1201.1" y="1592.7" font-size="27.5" text-anchor="end" fill="#000" >0.0</text>
<line x1="1206.6" y1="1512.1" x2="1223.8" y2="1512.1" stroke="#000" stroke-width="1.8" />
<text x="1201.1" y="1522.0" font-size="27.5" text-anchor="end" fill="#000" >0.5</text>
<line x1="1206.6" y1="1441.4" x2="1223.8" y2="1441.4" stroke="#000" stroke-width="1.8" />
<text x="1201.1" y="1451.3" font-size="27.5" text-anchor="end" fill="#000" >1.0</text>
<line x1="1206.6" y1="1370.8" x2="1223.8" y2="1370.8" stroke="#000" stroke-width="1.8" />
<text x="1201.1" y="1380.7" font-size="27.5" text-anchor="end" fill="#000" >1.5</text>
<line x1="1206.6" y1="1300.1" x2="1223.8" y2="1300.1" stroke="#000" stroke-width="1.8" />
<text x="1201.1" y="1310.0" font-size="27.5" text-anchor="end" fill="#000" >2.0</text>
<line x1="1286.0" y1="1301.9" x2="1351.0" y2="1301.9" stroke="#000" stroke-width="1.6" />
<text x="1318.5" y="1298.4" font-size="30" text-anchor="middle" fill="#000" textLength="54.0" lengthAdjust="spacing" >n.s.</text>
<text x="1316.5" y="1254.0" font-size="26" text-anchor="middle" fill="#000" textLength="136.0" lengthAdjust="spacing" >Front base</text>
<text transform="translate(1142.5,1441.7) rotate(-90)" x="0" y="0" font-size="28" text-anchor="middle" fill="#000" textLength="272.0" lengthAdjust="spacing">Front-base width (cm)</text>
<rect x="477.2" y="1880.6" width="58.4" height="152.7" stroke="#000" stroke-width="2.2" fill="#fff"/>
<rect x="546.3" y="1900.4" width="59.7" height="132.9" stroke="#ff0000" stroke-width="2.2" fill="#fff"/>
<rect x="503.4" y="1781.2" width="6.0" height="6.0" rx="0.8" fill="#000"/>
<rect x="498.8" y="1802.5" width="6.0" height="6.0" rx="0.8" fill="#000"/>
<rect x="507.9" y="1801.5" width="6.0" height="6.0" rx="0.8" fill="#000"/>
<rect x="516.5" y="1799.8" width="6.0" height="6.0" rx="0.8" fill="#000"/>
<rect x="503.4" y="1812.6" width="6.0" height="6.0" rx="0.8" fill="#000"/>
<rect x="490.0" y="1828.6" width="6.0" height="6.0" rx="0.8" fill="#000"/>
<rect x="498.8" y="1828.6" width="6.0" height="6.0" rx="0.8" fill="#000"/>
<rect x="507.9" y="1828.6" width="6.0" height="6.0" rx="0.8" fill="#000"/>
<rect x="516.5" y="1826.1" width="6.0" height="6.0" rx="0.8" fill="#000"/>
<rect x="481.1" y="1834.2" width="6.0" height="6.0" rx="0.8" fill="#000"/>
<rect x="490.0" y="1835.7" width="6.0" height="6.0" rx="0.8" fill="#000"/>
<rect x="498.8" y="1836.7" width="6.0" height="6.0" rx="0.8" fill="#000"/>
<rect x="507.9" y="1832.1" width="6.0" height="6.0" rx="0.8" fill="#000"/>
<rect x="516.5" y="1834.7" width="6.0" height="6.0" rx="0.8" fill="#000"/>
<rect x="516.5" y="1839.2" width="6.0" height="6.0" rx="0.8" fill="#000"/>
<rect x="525.6" y="1835.2" width="6.0" height="6.0" rx="0.8" fill="#000"/>
<rect x="507.9" y="1840.2" width="6.0" height="6.0" rx="0.8" fill="#000"/>
<rect x="490.0" y="1844.8" width="6.0" height="6.0" rx="0.8" fill="#000"/>
<rect x="498.8" y="1849.6" width="6.0" height="6.0" rx="0.8" fill="#000"/>
<rect x="507.9" y="1846.8" width="6.0" height="6.0" rx="0.8" fill="#000"/>
<rect x="490.0" y="1866.0" width="6.0" height="6.0" rx="0.8" fill="#000"/>
<rect x="507.9" y="1864.0" width="6.0" height="6.0" rx="0.8" fill="#000"/>
<rect x="507.9" y="1868.0" width="6.0" height="6.0" rx="0.8" fill="#000"/>
<rect x="516.5" y="1865.5" width="6.0" height="6.0" rx="0.8" fill="#000"/>
<rect x="490.0" y="1877.1" width="6.0" height="6.0" rx="0.8" fill="#000"/>
<rect x="498.8" y="1878.7" width="6.0" height="6.0" rx="0.8" fill="#000"/>
<rect x="507.9" y="1879.2" width="6.0" height="6.0" rx="0.8" fill="#000"/>
<rect x="516.5" y="1876.6" width="6.0" height="6.0" rx="0.8" fill="#000"/>
<rect x="498.8" y="1886.2" width="6.0" height="6.0" rx="0.8" fill="#000"/>
<rect x="507.9" y="1886.2" width="6.0" height="6.0" rx="0.8" fill="#000"/>
<rect x="498.8" y="1894.3" width="6.0" height="6.0" rx="0.8" fill="#000"/>
<rect x="507.9" y="1896.9" width="6.0" height="6.0" rx="0.8" fill="#000"/>
<rect x="498.8" y="1916.1" width="6.0" height="6.0" rx="0.8" fill="#000"/>
<rect x="507.9" y="1914.1" width="6.0" height="6.0" rx="0.8" fill="#000"/>
<rect x="490.0" y="1922.7" width="6.0" height="6.0" rx="0.8" fill="#000"/>
<rect x="507.9" y="1921.6" width="6.0" height="6.0" rx="0.8" fill="#000"/>
<rect x="507.9" y="1926.7" width="6.0" height="6.0" rx="0.8" fill="#000"/>
<rect x="490.0" y="1930.2" width="6.0" height="6.0" rx="0.8" fill="#000"/>
<rect x="490.0" y="1936.8" width="6.0" height="6.0" rx="0.8" fill="#000"/>
<rect x="498.8" y="1933.8" width="6.0" height="6.0" rx="0.8" fill="#000"/>
<rect x="498.8" y="1939.9" width="6.0" height="6.0" rx="0.8" fill="#000"/>
<rect x="507.9" y="1932.8" width="6.0" height="6.0" rx="0.8" fill="#000"/>
<rect x="507.9" y="1940.9" width="6.0" height="6.0" rx="0.8" fill="#000"/>
<rect x="498.8" y="1951.5" width="6.0" height="6.0" rx="0.8" fill="#000"/>
<rect x="507.9" y="1954.0" width="6.0" height="6.0" rx="0.8" fill="#000"/>
<rect x="503.4" y="1960.1" width="6.0" height="6.0" rx="0.8" fill="#000"/>
<rect x="503.4" y="1966.7" width="6.0" height="6.0" rx="0.8" fill="#000"/>
<rect x="503.4" y="1972.7" width="6.0" height="6.0" rx="0.8" fill="#000"/>
<circle cx="576.8" cy="1792.1" r="3.2" fill="#ff0000"/>
<circle cx="576.8" cy="1816.4" r="3.2" fill="#ff0000"/>
<circle cx="576.8" cy="1832.3" r="3.2" fill="#ff0000"/>
<circle cx="572.4" cy="1840.3" r="3.2" fill="#ff0000"/>
<circle cx="581.3" cy="1841.5" r="3.2" fill="#ff0000"/>
<circle cx="558.8" cy="1850.3" r="3.2" fill="#ff0000"/>
<circle cx="567.7" cy="1848.8" r="3.2" fill="#ff0000"/>
<circle cx="576.8" cy="1847.6" r="3.2" fill="#ff0000"/>
<circle cx="585.7" cy="1849.4" r="3.2" fill="#ff0000"/>
<circle cx="594.6" cy="1850.3" r="3.2" fill="#ff0000"/>
<circle cx="585.7" cy="1856.3" r="3.2" fill="#ff0000"/>
<circle cx="567.7" cy="1861.8" r="3.2" fill="#ff0000"/>
<circle cx="576.8" cy="1859.5" r="3.2" fill="#ff0000"/>
<circle cx="576.8" cy="1866.1" r="3.2" fill="#ff0000"/>
<circle cx="585.7" cy="1863.2" r="3.2" fill="#ff0000"/>
<circle cx="567.7" cy="1872.5" r="3.2" fill="#ff0000"/>
<circle cx="576.8" cy="1873.6" r="3.2" fill="#ff0000"/>
<circle cx="585.7" cy="1873.6" r="3.2" fill="#ff0000"/>
<circle cx="567.7" cy="1878.8" r="3.2" fill="#ff0000"/>
<circle cx="567.7" cy="1884.6" r="3.2" fill="#ff0000"/>
<circle cx="576.8" cy="1882.3" r="3.2" fill="#ff0000"/>
<circle cx="585.7" cy="1881.7" r="3.2" fill="#ff0000"/>
<circle cx="576.8" cy="1888.1" r="3.2" fill="#ff0000"/>
<circle cx="558.8" cy="1891.2" r="3.2" fill="#ff0000"/>
<circle cx="567.7" cy="1891.9" r="3.2" fill="#ff0000"/>
<circle cx="594.6" cy="1888.7" r="3.2" fill="#ff0000"/>
<circle cx="576.8" cy="1894.5" r="3.2" fill="#ff0000"/>
<circle cx="585.7" cy="1896.8" r="3.2" fill="#ff0000"/>
<circle cx="576.8" cy="1900.8" r="3.2" fill="#ff0000"/>
<circle cx="567.7" cy="1902.5" r="3.2" fill="#ff0000"/>
<circle cx="585.7" cy="1901.4" r="3.2" fill="#ff0000"/>
<circle cx="585.7" cy="1908.3" r="3.2" fill="#ff0000"/>
<circle cx="576.8" cy="1911.8" r="3.2" fill="#ff0000"/>
<circle cx="567.7" cy="1924.5" r="3.2" fill="#ff0000"/>
<circle cx="567.7" cy="1929.1" r="3.2" fill="#ff0000"/>
<circle cx="576.8" cy="1920.5" r="3.2" fill="#ff0000"/>
<circle cx="576.8" cy="1925.1" r="3.2" fill="#ff0000"/>
<circle cx="576.8" cy="1932.6" r="3.2" fill="#ff0000"/>
<circle cx="585.7" cy="1923.4" r="3.2" fill="#ff0000"/>
<circle cx="585.7" cy="1930.9" r="3.2" fill="#ff0000"/>
<circle cx="594.6" cy="1922.4" r="3.2" fill="#ff0000"/>
<circle cx="567.7" cy="1938.4" r="3.2" fill="#ff0000"/>
<circle cx="585.7" cy="1938.4" r="3.2" fill="#ff0000"/>
<circle cx="576.8" cy="1942.8" r="3.2" fill="#ff0000"/>
<circle cx="576.8" cy="1947.4" r="3.2" fill="#ff0000"/>
<circle cx="567.7" cy="1953.8" r="3.2" fill="#ff0000"/>
<circle cx="567.7" cy="1963.8" r="3.2" fill="#ff0000"/>
<circle cx="576.8" cy="1956.9" r="3.2" fill="#ff0000"/>
<circle cx="576.8" cy="1961.5" r="3.2" fill="#ff0000"/>
<circle cx="576.8" cy="1967.5" r="3.2" fill="#ff0000"/>
<circle cx="585.7" cy="1956.3" r="3.2" fill="#ff0000"/>
<circle cx="576.8" cy="1975.4" r="3.2" fill="#ff0000"/>
<circle cx="576.8" cy="1985.8" r="3.2" fill="#ff0000"/>
<circle cx="576.8" cy="2006.0" r="3.2" fill="#ff0000"/>
<line x1="506.4" y1="1872.3" x2="506.4" y2="1887.4" stroke="#3a3a3a" stroke-width="1.5" />
<line x1="491.2" y1="1872.3" x2="521.6" y2="1872.3" stroke="#3a3a3a" stroke-width="1.8" />
<line x1="491.2" y1="1887.4" x2="521.6" y2="1887.4" stroke="#3a3a3a" stroke-width="1.8" />
<line x1="576.8" y1="1893.9" x2="576.8" y2="1906.0" stroke="#ff5a5a" stroke-width="1.5" />
<line x1="561.5" y1="1893.9" x2="592.1" y2="1893.9" stroke="#ff5a5a" stroke-width="1.8" />
<line x1="561.5" y1="1906.0" x2="592.1" y2="1906.0" stroke="#ff5a5a" stroke-width="1.8" />
<line x1="445.7" y1="1746.7" x2="445.7" y2="2033.3" stroke="#000" stroke-width="2.2" />
<line x1="428.2" y1="2033.3" x2="638.5" y2="2033.3" stroke="#000" stroke-width="2.2" />
<line x1="428.2" y1="2033.3" x2="445.7" y2="2033.3" stroke="#000" stroke-width="1.8" />
<text x="422.7" y="2043.2" font-size="27.5" text-anchor="end" fill="#000" >5</text>
<line x1="428.2" y1="1961.7" x2="445.7" y2="1961.7" stroke="#000" stroke-width="1.8" />
<text x="422.7" y="1971.6" font-size="27.5" text-anchor="end" fill="#000" >6</text>
<line x1="428.2" y1="1890.0" x2="445.7" y2="1890.0" stroke="#000" stroke-width="1.8" />
<text x="422.7" y="1899.9" font-size="27.5" text-anchor="end" fill="#000" >7</text>
<line x1="428.2" y1="1818.3" x2="445.7" y2="1818.3" stroke="#000" stroke-width="1.8" />
<text x="422.7" y="1828.2" font-size="27.5" text-anchor="end" fill="#000" >8</text>
<line x1="428.2" y1="1746.7" x2="445.7" y2="1746.7" stroke="#000" stroke-width="1.8" />
<text x="422.7" y="1756.6" font-size="27.5" text-anchor="end" fill="#000" >9</text>
<line x1="500.8" y1="1746.0" x2="580.6" y2="1746.0" stroke="#000" stroke-width="1.6" />
<text x="541.7" y="1756.0" font-size="44" text-anchor="middle" fill="#000" stroke="#000" stroke-width="0.8">*</text>
<text x="535.0" y="1697.2" font-size="26" text-anchor="middle" fill="#000" textLength="192.5" lengthAdjust="spacing" >Hindlimb stride</text>
<text transform="translate(388.0,1890.0) rotate(-90)" x="0" y="0" font-size="28" text-anchor="middle" fill="#000" textLength="226.0" lengthAdjust="spacing">Stride length (cm)</text>
<rect x="895.1" y="1887.0" width="57.7" height="142.5" stroke="#000" stroke-width="2.2" fill="#fff"/>
<rect x="963.5" y="1877.5" width="58.4" height="152.0" stroke="#ff0000" stroke-width="2.2" fill="#fff"/>
<rect x="920.9" y="1803.4" width="6.0" height="6.0" rx="0.8" fill="#000"/>
<rect x="907.7" y="1822.6" width="6.0" height="6.0" rx="0.8" fill="#000"/>
<rect x="916.4" y="1823.6" width="6.0" height="6.0" rx="0.8" fill="#000"/>
<rect x="925.3" y="1824.6" width="6.0" height="6.0" rx="0.8" fill="#000"/>
<rect x="920.9" y="1834.2" width="6.0" height="6.0" rx="0.8" fill="#000"/>
<rect x="925.3" y="1839.5" width="6.0" height="6.0" rx="0.8" fill="#000"/>
<rect x="916.4" y="1843.4" width="6.0" height="6.0" rx="0.8" fill="#000"/>
<rect x="899.0" y="1853.0" width="6.0" height="6.0" rx="0.8" fill="#000"/>
<rect x="907.7" y="1854.9" width="6.0" height="6.0" rx="0.8" fill="#000"/>
<rect x="916.4" y="1855.9" width="6.0" height="6.0" rx="0.8" fill="#000"/>
<rect x="925.3" y="1855.9" width="6.0" height="6.0" rx="0.8" fill="#000"/>
<rect x="925.3" y="1860.7" width="6.0" height="6.0" rx="0.8" fill="#000"/>
<rect x="934.0" y="1855.9" width="6.0" height="6.0" rx="0.8" fill="#000"/>
<rect x="942.7" y="1853.0" width="6.0" height="6.0" rx="0.8" fill="#000"/>
<rect x="942.7" y="1857.8" width="6.0" height="6.0" rx="0.8" fill="#000"/>
<rect x="907.7" y="1867.4" width="6.0" height="6.0" rx="0.8" fill="#000"/>
<rect x="916.4" y="1866.5" width="6.0" height="6.0" rx="0.8" fill="#000"/>
<rect x="916.4" y="1871.8" width="6.0" height="6.0" rx="0.8" fill="#000"/>
<rect x="925.3" y="1870.3" width="6.0" height="6.0" rx="0.8" fill="#000"/>
<rect x="934.0" y="1867.4" width="6.0" height="6.0" rx="0.8" fill="#000"/>
<rect x="907.7" y="1876.6" width="6.0" height="6.0" rx="0.8" fill="#000"/>
<rect x="916.4" y="1879.5" width="6.0" height="6.0" rx="0.8" fill="#000"/>
<rect x="925.3" y="1876.1" width="6.0" height="6.0" rx="0.8" fill="#000"/>
<rect x="934.0" y="1876.6" width="6.0" height="6.0" rx="0.8" fill="#000"/>
<rect x="925.3" y="1884.3" width="6.0" height="6.0" rx="0.8" fill="#000"/>
<rect x="907.7" y="1888.6" width="6.0" height="6.0" rx="0.8" fill="#000"/>
<rect x="925.3" y="1890.6" width="6.0" height="6.0" rx="0.8" fill="#000"/>
<rect x="934.0" y="1890.6" width="6.0" height="6.0" rx="0.8" fill="#000"/>
<rect x="934.0" y="1894.9" width="6.0" height="6.0" rx="0.8" fill="#000"/>
<rect x="907.7" y="1898.3" width="6.0" height="6.0" rx="0.8" fill="#000"/>
<rect x="916.4" y="1895.9" width="6.0" height="6.0" rx="0.8" fill="#000"/>
<rect x="916.4" y="1900.2" width="6.0" height="6.0" rx="0.8" fill="#000"/>
<rect x="907.7" y="1906.9" width="6.0" height="6.0" rx="0.8" fill="#000"/>
<rect x="916.4" y="1908.9" width="6.0" height="6.0" rx="0.8" fill="#000"/>
<rect x="916.4" y="1912.7" width="6.0" height="6.0" rx="0.8" fill="#000"/>
<rect x="925.3" y="1907.4" width="6.0" height="6.0" rx="0.8" fill="#000"/>
<rect x="934.0" y="1905.0" width="6.0" height="6.0" rx="0.8" fill="#000"/>
<rect x="942.7" y="1905.0" width="6.0" height="6.0" rx="0.8" fill="#000"/>
<rect x="907.7" y="1914.6" width="6.0" height="6.0" rx="0.8" fill="#000"/>
<rect x="907.7" y="1919.0" width="6.0" height="6.0" rx="0.8" fill="#000"/>
<rect x="934.0" y="1917.5" width="6.0" height="6.0" rx="0.8" fill="#000"/>
<rect x="916.4" y="1921.9" width="6.0" height="6.0" rx="0.8" fill="#000"/>
<rect x="925.3" y="1921.4" width="6.0" height="6.0" rx="0.8" fill="#000"/>
<rect x="920.9" y="1927.7" width="6.0" height="6.0" rx="0.8" fill="#000"/>
<rect x="916.4" y="1941.1" width="6.0" height="6.0" rx="0.8" fill="#000"/>
<rect x="925.3" y="1939.2" width="6.0" height="6.0" rx="0.8" fill="#000"/>
<rect x="925.3" y="1944.0" width="6.0" height="6.0" rx="0.8" fill="#000"/>
<rect x="920.9" y="1972.5" width="6.0" height="6.0" rx="0.8" fill="#000"/>
<circle cx="993.0" cy="1797.5" r="3.2" fill="#ff0000"/>
<circle cx="993.0" cy="1805.4" r="3.2" fill="#ff0000"/>
<circle cx="993.0" cy="1810.2" r="3.2" fill="#ff0000"/>
<circle cx="1001.7" cy="1806.5" r="3.2" fill="#ff0000"/>
<circle cx="984.3" cy="1823.5" r="3.2" fill="#ff0000"/>
<circle cx="984.3" cy="1830.7" r="3.2" fill="#ff0000"/>
<circle cx="993.0" cy="1821.9" r="3.2" fill="#ff0000"/>
<circle cx="993.0" cy="1828.2" r="3.2" fill="#ff0000"/>
<circle cx="1001.7" cy="1824.5" r="3.2" fill="#ff0000"/>
<circle cx="1001.7" cy="1829.8" r="3.2" fill="#ff0000"/>
<circle cx="1010.5" cy="1827.2" r="3.2" fill="#ff0000"/>
<circle cx="984.3" cy="1841.3" r="3.2" fill="#ff0000"/>
<circle cx="993.0" cy="1837.8" r="3.2" fill="#ff0000"/>
<circle cx="993.0" cy="1843.1" r="3.2" fill="#ff0000"/>
<circle cx="1001.7" cy="1843.1" r="3.2" fill="#ff0000"/>
<circle cx="1010.5" cy="1839.9" r="3.2" fill="#ff0000"/>
<circle cx="1010.5" cy="1848.7" r="3.2" fill="#ff0000"/>
<circle cx="984.3" cy="1851.5" r="3.2" fill="#ff0000"/>
<circle cx="993.0" cy="1852.9" r="3.2" fill="#ff0000"/>
<circle cx="1001.7" cy="1851.5" r="3.2" fill="#ff0000"/>
<circle cx="984.3" cy="1859.5" r="3.2" fill="#ff0000"/>
<circle cx="984.3" cy="1864.8" r="3.2" fill="#ff0000"/>
<circle cx="993.0" cy="1865.3" r="3.2" fill="#ff0000"/>
<circle cx="1001.7" cy="1861.6" r="3.2" fill="#ff0000"/>
<circle cx="1001.7" cy="1866.4" r="3.2" fill="#ff0000"/>
<circle cx="1010.5" cy="1862.1" r="3.2" fill="#ff0000"/>
<circle cx="988.7" cy="1872.0" r="3.2" fill="#ff0000"/>
<circle cx="997.2" cy="1874.8" r="3.2" fill="#ff0000"/>
<circle cx="993.0" cy="1879.1" r="3.2" fill="#ff0000"/>
<circle cx="984.3" cy="1883.3" r="3.2" fill="#ff0000"/>
<circle cx="993.0" cy="1886.0" r="3.2" fill="#ff0000"/>
<circle cx="1001.7" cy="1880.7" r="3.2" fill="#ff0000"/>
<circle cx="1001.7" cy="1886.0" r="3.2" fill="#ff0000"/>
<circle cx="993.0" cy="1893.4" r="3.2" fill="#ff0000"/>
<circle cx="993.0" cy="1899.2" r="3.2" fill="#ff0000"/>
<circle cx="993.0" cy="1903.5" r="3.2" fill="#ff0000"/>
<circle cx="1001.7" cy="1891.8" r="3.2" fill="#ff0000"/>
<circle cx="1001.7" cy="1896.6" r="3.2" fill="#ff0000"/>
<circle cx="1001.7" cy="1902.9" r="3.2" fill="#ff0000"/>
<circle cx="1010.5" cy="1899.5" r="3.2" fill="#ff0000"/>
<circle cx="984.3" cy="1900.3" r="3.2" fill="#ff0000"/>
<circle cx="984.3" cy="1906.6" r="3.2" fill="#ff0000"/>
<circle cx="1001.7" cy="1910.1" r="3.2" fill="#ff0000"/>
<circle cx="984.3" cy="1930.0" r="3.2" fill="#ff0000"/>
<circle cx="993.0" cy="1926.8" r="3.2" fill="#ff0000"/>
<circle cx="993.0" cy="1936.3" r="3.2" fill="#ff0000"/>
<circle cx="1001.7" cy="1926.8" r="3.2" fill="#ff0000"/>
<circle cx="1001.7" cy="1933.7" r="3.2" fill="#ff0000"/>
<circle cx="984.3" cy="1940.0" r="3.2" fill="#ff0000"/>
<circle cx="993.0" cy="1944.1" r="3.2" fill="#ff0000"/>
<circle cx="1001.7" cy="1949.6" r="3.2" fill="#ff0000"/>
<circle cx="993.0" cy="1952.2" r="3.2" fill="#ff0000"/>
<circle cx="993.0" cy="1967.6" r="3.2" fill="#ff0000"/>
<circle cx="993.0" cy="1984.5" r="3.2" fill="#ff0000"/>
<line x1="923.9" y1="1881.0" x2="923.9" y2="1890.7" stroke="#3a3a3a" stroke-width="1.5" />
<line x1="908.9" y1="1881.0" x2="938.9" y2="1881.0" stroke="#3a3a3a" stroke-width="1.8" />
<line x1="908.9" y1="1890.7" x2="938.9" y2="1890.7" stroke="#3a3a3a" stroke-width="1.8" />
<line x1="993.0" y1="1870.9" x2="993.0" y2="1883.0" stroke="#ff5a5a" stroke-width="1.5" />
<line x1="977.9" y1="1870.9" x2="1008.1" y2="1870.9" stroke="#ff5a5a" stroke-width="1.8" />
<line x1="977.9" y1="1883.0" x2="1008.1" y2="1883.0" stroke="#ff5a5a" stroke-width="1.8" />
<line x1="864.4" y1="1747.2" x2="864.4" y2="2029.5" stroke="#000" stroke-width="2.2" />
<line x1="847.4" y1="2029.5" x2="1053.2" y2="2029.5" stroke="#000" stroke-width="2.2" />
<line x1="847.4" y1="2029.5" x2="864.4" y2="2029.5" stroke="#000" stroke-width="1.8" />
<text x="841.9" y="2039.4" font-size="27.5" text-anchor="end" fill="#000" >0.0</text>
<line x1="847.4" y1="1958.9" x2="864.4" y2="1958.9" stroke="#000" stroke-width="1.8" />
<text x="841.9" y="1968.8" font-size="27.5" text-anchor="end" fill="#000" >0.5</text>
<line x1="847.4" y1="1888.3" x2="864.4" y2="1888.3" stroke="#000" stroke-width="1.8" />
<text x="841.9" y="1898.2" font-size="27.5" text-anchor="end" fill="#000" >1.0</text>
<line x1="847.4" y1="1817.8" x2="864.4" y2="1817.8" stroke="#000" stroke-width="1.8" />
<text x="841.9" y="1827.7" font-size="27.5" text-anchor="end" fill="#000" >1.5</text>
<line x1="847.4" y1="1747.2" x2="864.4" y2="1747.2" stroke="#000" stroke-width="1.8" />
<text x="841.9" y="1757.1" font-size="27.5" text-anchor="end" fill="#000" >2.0</text>
<line x1="923.0" y1="1748.0" x2="990.9" y2="1748.0" stroke="#000" stroke-width="1.6" />
<text x="957.0" y="1744.5" font-size="30" text-anchor="middle" fill="#000" textLength="54.0" lengthAdjust="spacing" >n.s.</text>
<text x="925.0" y="1694.6" font-size="26" text-anchor="middle" fill="#000" textLength="163.0" lengthAdjust="spacing" >Right overlap</text>
<text transform="translate(749.0,1890.0) rotate(-90)" x="0" y="0" font-size="24" text-anchor="middle" fill="#000" textLength="366.0" lengthAdjust="spacing">Overlap between forepaw and</text>
<text transform="translate(782.0,1887.0) rotate(-90)" x="0" y="0" font-size="24" text-anchor="middle" fill="#000" textLength="309.0" lengthAdjust="spacing">hindpaw placement (cm)</text>
<rect x="1256.0" y="1867.3" width="57.7" height="162.0" stroke="#000" stroke-width="2.2" fill="#fff"/>
<rect x="1324.5" y="1853.7" width="58.0" height="175.6" stroke="#ff0000" stroke-width="2.2" fill="#fff"/>
<rect x="1277.1" y="1807.9" width="6.0" height="6.0" rx="0.8" fill="#000"/>
<rect x="1286.0" y="1809.2" width="6.0" height="6.0" rx="0.8" fill="#000"/>
<rect x="1281.6" y="1827.2" width="6.0" height="6.0" rx="0.8" fill="#000"/>
<rect x="1272.7" y="1831.3" width="6.0" height="6.0" rx="0.8" fill="#000"/>
<rect x="1290.5" y="1833.9" width="6.0" height="6.0" rx="0.8" fill="#000"/>
<rect x="1281.6" y="1837.8" width="6.0" height="6.0" rx="0.8" fill="#000"/>
<rect x="1281.6" y="1844.9" width="6.0" height="6.0" rx="0.8" fill="#000"/>
<rect x="1281.6" y="1849.4" width="6.0" height="6.0" rx="0.8" fill="#000"/>
<rect x="1272.7" y="1850.9" width="6.0" height="6.0" rx="0.8" fill="#000"/>
<rect x="1290.5" y="1843.0" width="6.0" height="6.0" rx="0.8" fill="#000"/>
<rect x="1290.5" y="1850.4" width="6.0" height="6.0" rx="0.8" fill="#000"/>
<rect x="1272.7" y="1862.2" width="6.0" height="6.0" rx="0.8" fill="#000"/>
<rect x="1281.6" y="1864.2" width="6.0" height="6.0" rx="0.8" fill="#000"/>
<rect x="1281.6" y="1868.6" width="6.0" height="6.0" rx="0.8" fill="#000"/>
<rect x="1290.5" y="1865.2" width="6.0" height="6.0" rx="0.8" fill="#000"/>
<rect x="1290.5" y="1870.6" width="6.0" height="6.0" rx="0.8" fill="#000"/>
<rect x="1272.7" y="1873.6" width="6.0" height="6.0" rx="0.8" fill="#000"/>
<rect x="1281.6" y="1873.1" width="6.0" height="6.0" rx="0.8" fill="#000"/>
<rect x="1272.7" y="1886.4" width="6.0" height="6.0" rx="0.8" fill="#000"/>
<rect x="1290.5" y="1882.5" width="6.0" height="6.0" rx="0.8" fill="#000"/>
<rect x="1290.5" y="1889.4" width="6.0" height="6.0" rx="0.8" fill="#000"/>
<rect x="1281.6" y="1891.4" width="6.0" height="6.0" rx="0.8" fill="#000"/>
<rect x="1281.6" y="1899.8" width="6.0" height="6.0" rx="0.8" fill="#000"/>
<rect x="1281.6" y="1912.1" width="6.0" height="6.0" rx="0.8" fill="#000"/>
<rect x="1281.6" y="1963.8" width="6.0" height="6.0" rx="0.8" fill="#000"/>
<circle cx="1353.7" cy="1770.4" r="3.2" fill="#ff0000"/>
<circle cx="1353.7" cy="1777.0" r="3.2" fill="#ff0000"/>
<circle cx="1358.2" cy="1783.7" r="3.2" fill="#ff0000"/>
<circle cx="1349.3" cy="1785.9" r="3.2" fill="#ff0000"/>
<circle cx="1349.3" cy="1807.4" r="3.2" fill="#ff0000"/>
<circle cx="1358.2" cy="1811.2" r="3.2" fill="#ff0000"/>
<circle cx="1353.7" cy="1815.5" r="3.2" fill="#ff0000"/>
<circle cx="1358.2" cy="1820.3" r="3.2" fill="#ff0000"/>
<circle cx="1349.3" cy="1824.0" r="3.2" fill="#ff0000"/>
<circle cx="1353.7" cy="1829.7" r="3.2" fill="#ff0000"/>
<circle cx="1353.7" cy="1838.8" r="3.2" fill="#ff0000"/>
<circle cx="1358.2" cy="1847.7" r="3.2" fill="#ff0000"/>
<circle cx="1349.3" cy="1849.9" r="3.2" fill="#ff0000"/>
<circle cx="1353.7" cy="1857.8" r="3.2" fill="#ff0000"/>
<circle cx="1349.3" cy="1865.5" r="3.2" fill="#ff0000"/>
<circle cx="1358.2" cy="1863.7" r="3.2" fill="#ff0000"/>
<circle cx="1340.4" cy="1876.4" r="3.2" fill="#ff0000"/>
<circle cx="1349.3" cy="1878.6" r="3.2" fill="#ff0000"/>
<circle cx="1358.2" cy="1877.4" r="3.2" fill="#ff0000"/>
<circle cx="1367.1" cy="1876.4" r="3.2" fill="#ff0000"/>
<circle cx="1340.4" cy="1891.7" r="3.2" fill="#ff0000"/>
<circle cx="1349.3" cy="1893.4" r="3.2" fill="#ff0000"/>
<circle cx="1358.2" cy="1891.7" r="3.2" fill="#ff0000"/>
<circle cx="1353.7" cy="1901.3" r="3.2" fill="#ff0000"/>
<circle cx="1353.7" cy="1922.0" r="3.2" fill="#ff0000"/>
<circle cx="1353.7" cy="1927.0" r="3.2" fill="#ff0000"/>
<circle cx="1353.7" cy="1941.3" r="3.2" fill="#ff0000"/>
<line x1="1284.6" y1="1859.1" x2="1284.6" y2="1873.6" stroke="#3a3a3a" stroke-width="1.5" />
<line x1="1269.3" y1="1859.1" x2="1299.9" y2="1859.1" stroke="#3a3a3a" stroke-width="1.8" />
<line x1="1269.3" y1="1873.6" x2="1299.9" y2="1873.6" stroke="#3a3a3a" stroke-width="1.8" />
<line x1="1353.7" y1="1843.8" x2="1353.7" y2="1861.8" stroke="#ff5a5a" stroke-width="1.5" />
<line x1="1338.6" y1="1843.8" x2="1368.8" y2="1843.8" stroke="#ff5a5a" stroke-width="1.8" />
<line x1="1338.6" y1="1861.8" x2="1368.8" y2="1861.8" stroke="#ff5a5a" stroke-width="1.8" />
<line x1="1225.5" y1="1744.6" x2="1225.5" y2="2029.3" stroke="#000" stroke-width="2.2" />
<line x1="1208.1" y1="2029.3" x2="1414.0" y2="2029.3" stroke="#000" stroke-width="2.2" />
<line x1="1208.1" y1="2029.3" x2="1225.5" y2="2029.3" stroke="#000" stroke-width="1.8" />
<text x="1202.6" y="2039.2" font-size="27.5" text-anchor="end" fill="#000" >1.5</text>
<line x1="1208.1" y1="1958.1" x2="1225.5" y2="1958.1" stroke="#000" stroke-width="1.8" />
<text x="1202.6" y="1968.0" font-size="27.5" text-anchor="end" fill="#000" >2.0</text>
<line x1="1208.1" y1="1886.9" x2="1225.5" y2="1886.9" stroke="#000" stroke-width="1.8" />
<text x="1202.6" y="1896.8" font-size="27.5" text-anchor="end" fill="#000" >2.5</text>
<line x1="1208.1" y1="1815.8" x2="1225.5" y2="1815.8" stroke="#000" stroke-width="1.8" />
<text x="1202.6" y="1825.7" font-size="27.5" text-anchor="end" fill="#000" >3.0</text>
<line x1="1208.1" y1="1744.6" x2="1225.5" y2="1744.6" stroke="#000" stroke-width="1.8" />
<text x="1202.6" y="1754.5" font-size="27.5" text-anchor="end" fill="#000" >3.5</text>
<line x1="1288.5" y1="1746.6" x2="1349.2" y2="1746.6" stroke="#000" stroke-width="1.6" />
<text x="1318.8" y="1743.1" font-size="30" text-anchor="middle" fill="#000" textLength="54.0" lengthAdjust="spacing" >n.s.</text>
<text x="1313.2" y="1698.0" font-size="26" text-anchor="middle" fill="#000" textLength="127.5" lengthAdjust="spacing" >Hind base</text>
<text transform="translate(1144.0,1888.8) rotate(-90)" x="0" y="0" font-size="28" text-anchor="middle" fill="#000" textLength="268.0" lengthAdjust="spacing">Hind-base width (cm)</text>
</svg></body></html>
